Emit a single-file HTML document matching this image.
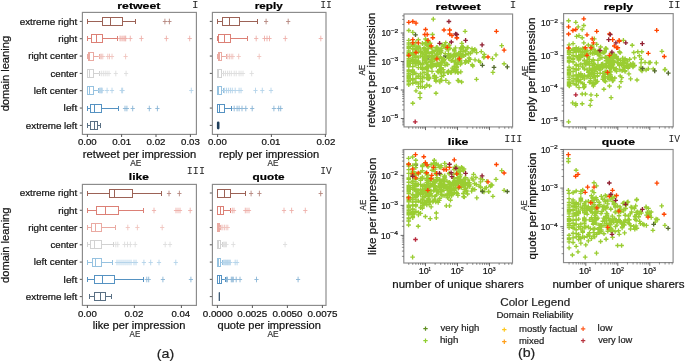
<!DOCTYPE html><html><head><meta charset="utf-8"><style>html,body{margin:0;padding:0;background:#fff;}svg{display:block;filter:blur(0.3px);} text{stroke-width:0.2px;} text.r{stroke-width:0;} text{font-kerning:none;}</style></head><body><svg width="685" height="362" viewBox="0 0 685 362"><rect width="685" height="362" fill="#fff"/><line x1="79.8" y1="21.4" x2="82.4" y2="21.4" stroke="#444" stroke-width="0.9"/><line x1="87.5" y1="21.5" x2="102.5" y2="21.5" stroke="#9c6256" stroke-width="1"/><line x1="122.5" y1="21.5" x2="135.5" y2="21.5" stroke="#9c6256" stroke-width="1"/><line x1="87.5" y1="19" x2="87.5" y2="24" stroke="#9c6256" stroke-width="1"/><line x1="135.5" y1="19" x2="135.5" y2="24" stroke="#9c6256" stroke-width="1"/><rect x="102.5" y="17.5" width="20" height="8" stroke="#9c6256" stroke-width="1" fill="none"/><line x1="110.5" y1="17.5" x2="110.5" y2="25.5" stroke="#9c6256" stroke-width="1"/><path d="M162.8 21.5h4.2M164.9 18.7v5.6M167.3 21.5h4.2M169.4 18.7v5.6" stroke="#b5877f" stroke-width="0.9" fill="none"/><line x1="79.8" y1="38.73" x2="82.4" y2="38.73" stroke="#444" stroke-width="0.9"/><line x1="87.5" y1="38.5" x2="91.5" y2="38.5" stroke="#dc8076" stroke-width="1"/><line x1="102.5" y1="38.5" x2="117.5" y2="38.5" stroke="#dc8076" stroke-width="1"/><line x1="87.5" y1="36" x2="87.5" y2="41" stroke="#dc8076" stroke-width="1"/><line x1="117.5" y1="36" x2="117.5" y2="41" stroke="#dc8076" stroke-width="1"/><rect x="91.5" y="34.5" width="11" height="8" stroke="#dc8076" stroke-width="1" fill="none"/><line x1="96.5" y1="34.5" x2="96.5" y2="42.5" stroke="#dc8076" stroke-width="1"/><path d="M117.9 38.5h4.2M120 35.7v5.6M119 38.5h4.2M121.1 35.7v5.6M120.7 38.5h4.2M122.8 35.7v5.6M121.9 38.5h4.2M124 35.7v5.6M122.9 38.5h4.2M125 35.7v5.6M123.6 38.5h4.2M125.7 35.7v5.6M128.2 38.5h4.2M130.3 35.7v5.6M139.3 38.5h4.2M141.4 35.7v5.6M164.3 38.5h4.2M166.4 35.7v5.6M187.6 38.5h4.2M189.7 35.7v5.6" stroke="#eeb0aa" stroke-width="0.9" fill="none"/><line x1="79.8" y1="56.06" x2="82.4" y2="56.06" stroke="#444" stroke-width="0.9"/><line x1="87.5" y1="56.5" x2="88.5" y2="56.5" stroke="#eaaaa2" stroke-width="1"/><line x1="93.5" y1="56.5" x2="99.5" y2="56.5" stroke="#eaaaa2" stroke-width="1"/><line x1="87.5" y1="54" x2="87.5" y2="59" stroke="#eaaaa2" stroke-width="1"/><line x1="99.5" y1="54" x2="99.5" y2="59" stroke="#eaaaa2" stroke-width="1"/><rect x="88.5" y="52.5" width="5" height="8" stroke="#eaaaa2" stroke-width="1" fill="none"/><line x1="89.5" y1="52.5" x2="89.5" y2="60.5" stroke="#eaaaa2" stroke-width="1"/><path d="M98.2 56.5h4.2M100.3 53.7v5.6M99.5 56.5h4.2M101.6 53.7v5.6M100.7 56.5h4.2M102.8 53.7v5.6M105.7 56.5h4.2M107.8 53.7v5.6M107.4 56.5h4.2M109.5 53.7v5.6M109.9 56.5h4.2M112 53.7v5.6M123.5 56.5h4.2M125.6 53.7v5.6" stroke="#f0c4be" stroke-width="0.9" fill="none"/><line x1="79.8" y1="73.39" x2="82.4" y2="73.39" stroke="#444" stroke-width="0.9"/><line x1="87.5" y1="73.5" x2="87.5" y2="73.5" stroke="#d2d2d2" stroke-width="1"/><line x1="93.5" y1="73.5" x2="99.5" y2="73.5" stroke="#d2d2d2" stroke-width="1"/><line x1="87.5" y1="71" x2="87.5" y2="76" stroke="#d2d2d2" stroke-width="1"/><line x1="99.5" y1="71" x2="99.5" y2="76" stroke="#d2d2d2" stroke-width="1"/><rect x="87.5" y="69.5" width="6" height="8" stroke="#d2d2d2" stroke-width="1" fill="none"/><line x1="89.5" y1="69.5" x2="89.5" y2="77.5" stroke="#d2d2d2" stroke-width="1"/><path d="M99.2 73.5h4.2M101.3 70.7v5.6M101.2 73.5h4.2M103.3 70.7v5.6M103.1 73.5h4.2M105.2 70.7v5.6M105 73.5h4.2M107.1 70.7v5.6M106.9 73.5h4.2M109 70.7v5.6M113.7 73.5h4.2M115.8 70.7v5.6M124 73.5h4.2M126.1 70.7v5.6" stroke="#dedede" stroke-width="0.9" fill="none"/><line x1="79.8" y1="90.72" x2="82.4" y2="90.72" stroke="#444" stroke-width="0.9"/><line x1="87.5" y1="90.5" x2="87.5" y2="90.5" stroke="#96c2e0" stroke-width="1"/><line x1="93.5" y1="90.5" x2="98.5" y2="90.5" stroke="#96c2e0" stroke-width="1"/><line x1="87.5" y1="88" x2="87.5" y2="93" stroke="#96c2e0" stroke-width="1"/><line x1="98.5" y1="88" x2="98.5" y2="93" stroke="#96c2e0" stroke-width="1"/><rect x="87.5" y="86.5" width="6" height="8" stroke="#96c2e0" stroke-width="1" fill="none"/><line x1="89.5" y1="86.5" x2="89.5" y2="94.5" stroke="#96c2e0" stroke-width="1"/><path d="M97.4 90.5h4.2M99.5 87.7v5.6M98.3 90.5h4.2M100.4 87.7v5.6M98.9 90.5h4.2M101 87.7v5.6M99.4 90.5h4.2M101.5 87.7v5.6M100.2 90.5h4.2M102.3 87.7v5.6M105 90.5h4.2M107.1 87.7v5.6M109.9 90.5h4.2M112 87.7v5.6M119.6 90.5h4.2M121.7 87.7v5.6M120.5 90.5h4.2M122.6 87.7v5.6M189.2 90.5h4.2M191.3 87.7v5.6" stroke="#b4d4ea" stroke-width="0.9" fill="none"/><line x1="79.8" y1="108.05" x2="82.4" y2="108.05" stroke="#444" stroke-width="0.9"/><line x1="87.5" y1="108.5" x2="90.5" y2="108.5" stroke="#5592c2" stroke-width="1"/><line x1="101.5" y1="108.5" x2="118.5" y2="108.5" stroke="#5592c2" stroke-width="1"/><line x1="87.5" y1="106" x2="87.5" y2="111" stroke="#5592c2" stroke-width="1"/><line x1="118.5" y1="106" x2="118.5" y2="111" stroke="#5592c2" stroke-width="1"/><rect x="90.5" y="104.5" width="11" height="8" stroke="#5592c2" stroke-width="1" fill="none"/><line x1="94.5" y1="104.5" x2="94.5" y2="112.5" stroke="#5592c2" stroke-width="1"/><path d="M122.9 108.5h4.2M125 105.7v5.6M124.8 108.5h4.2M126.9 105.7v5.6M130.6 108.5h4.2M132.7 105.7v5.6M147.2 108.5h4.2M149.3 105.7v5.6M155.3 108.5h4.2M157.4 105.7v5.6" stroke="#8ab5d6" stroke-width="0.9" fill="none"/><line x1="79.8" y1="125.38" x2="82.4" y2="125.38" stroke="#444" stroke-width="0.9"/><line x1="87.5" y1="125.5" x2="90.5" y2="125.5" stroke="#5a7084" stroke-width="1"/><line x1="97.5" y1="125.5" x2="100.5" y2="125.5" stroke="#5a7084" stroke-width="1"/><line x1="87.5" y1="123" x2="87.5" y2="128" stroke="#5a7084" stroke-width="1"/><line x1="100.5" y1="123" x2="100.5" y2="128" stroke="#5a7084" stroke-width="1"/><rect x="90.5" y="121.5" width="7" height="8" stroke="#5a7084" stroke-width="1" fill="none"/><line x1="94.5" y1="121.5" x2="94.5" y2="129.5" stroke="#5a7084" stroke-width="1"/><rect x="82.4" y="12.4" width="114" height="122" stroke="#8a8a8a" stroke-width="1.15" fill="none"/><line x1="209.8" y1="21.4" x2="212.4" y2="21.4" stroke="#444" stroke-width="0.9"/><line x1="217.5" y1="21.5" x2="222.5" y2="21.5" stroke="#9c6256" stroke-width="1"/><line x1="239.5" y1="21.5" x2="257.5" y2="21.5" stroke="#9c6256" stroke-width="1"/><line x1="217.5" y1="19" x2="217.5" y2="24" stroke="#9c6256" stroke-width="1"/><line x1="257.5" y1="19" x2="257.5" y2="24" stroke="#9c6256" stroke-width="1"/><rect x="222.5" y="17.5" width="17" height="8" stroke="#9c6256" stroke-width="1" fill="none"/><line x1="229.5" y1="17.5" x2="229.5" y2="25.5" stroke="#9c6256" stroke-width="1"/><path d="M264 21.5h4.2M266.1 18.7v5.6M286.1 21.5h4.2M288.2 18.7v5.6" stroke="#b5877f" stroke-width="0.9" fill="none"/><line x1="209.8" y1="38.73" x2="212.4" y2="38.73" stroke="#444" stroke-width="0.9"/><line x1="217.5" y1="38.5" x2="218.5" y2="38.5" stroke="#dc8076" stroke-width="1"/><line x1="230.5" y1="38.5" x2="247.5" y2="38.5" stroke="#dc8076" stroke-width="1"/><line x1="217.5" y1="36" x2="217.5" y2="41" stroke="#dc8076" stroke-width="1"/><line x1="247.5" y1="36" x2="247.5" y2="41" stroke="#dc8076" stroke-width="1"/><rect x="218.5" y="34.5" width="12" height="8" stroke="#dc8076" stroke-width="1" fill="none"/><line x1="224.5" y1="34.5" x2="224.5" y2="42.5" stroke="#dc8076" stroke-width="1"/><path d="M254.1 38.5h4.2M256.2 35.7v5.6M262.4 38.5h4.2M264.5 35.7v5.6M264.9 38.5h4.2M267 35.7v5.6M267.4 38.5h4.2M269.5 35.7v5.6M283.2 38.5h4.2M285.3 35.7v5.6M318.7 38.5h4.2M320.8 35.7v5.6" stroke="#eeb0aa" stroke-width="0.9" fill="none"/><line x1="209.8" y1="56.06" x2="212.4" y2="56.06" stroke="#444" stroke-width="0.9"/><line x1="217.5" y1="56.5" x2="218.5" y2="56.5" stroke="#eaaaa2" stroke-width="1"/><line x1="221.5" y1="56.5" x2="226.5" y2="56.5" stroke="#eaaaa2" stroke-width="1"/><line x1="217.5" y1="54" x2="217.5" y2="59" stroke="#eaaaa2" stroke-width="1"/><line x1="226.5" y1="54" x2="226.5" y2="59" stroke="#eaaaa2" stroke-width="1"/><rect x="218.5" y="52.5" width="3" height="8" stroke="#eaaaa2" stroke-width="1" fill="none"/><line x1="219.5" y1="52.5" x2="219.5" y2="60.5" stroke="#eaaaa2" stroke-width="1"/><path d="M225.7 56.5h4.2M227.8 53.7v5.6M227.4 56.5h4.2M229.5 53.7v5.6M229.1 56.5h4.2M231.2 53.7v5.6M230.7 56.5h4.2M232.8 53.7v5.6M236.6 56.5h4.2M238.7 53.7v5.6M257.1 56.5h4.2M259.2 53.7v5.6" stroke="#f0c4be" stroke-width="0.9" fill="none"/><line x1="209.8" y1="73.39" x2="212.4" y2="73.39" stroke="#444" stroke-width="0.9"/><line x1="217.5" y1="73.5" x2="217.5" y2="73.5" stroke="#d2d2d2" stroke-width="1"/><line x1="221.5" y1="73.5" x2="223.5" y2="73.5" stroke="#d2d2d2" stroke-width="1"/><line x1="217.5" y1="71" x2="217.5" y2="76" stroke="#d2d2d2" stroke-width="1"/><line x1="223.5" y1="71" x2="223.5" y2="76" stroke="#d2d2d2" stroke-width="1"/><rect x="217.5" y="69.5" width="4" height="8" stroke="#d2d2d2" stroke-width="1" fill="none"/><line x1="218.5" y1="69.5" x2="218.5" y2="77.5" stroke="#d2d2d2" stroke-width="1"/><path d="M221.5 73.5h4.2M223.6 70.7v5.6M223.4 73.5h4.2M225.5 70.7v5.6M225.4 73.5h4.2M227.5 70.7v5.6M227.3 73.5h4.2M229.4 70.7v5.6M229.2 73.5h4.2M231.3 70.7v5.6M232.1 73.5h4.2M234.2 70.7v5.6M234.1 73.5h4.2M236.2 70.7v5.6M237 73.5h4.2M239.1 70.7v5.6M238.9 73.5h4.2M241 70.7v5.6M240.9 73.5h4.2M243 70.7v5.6M249.6 73.5h4.2M251.7 70.7v5.6" stroke="#dedede" stroke-width="0.9" fill="none"/><line x1="209.8" y1="90.72" x2="212.4" y2="90.72" stroke="#444" stroke-width="0.9"/><line x1="217.5" y1="90.5" x2="217.5" y2="90.5" stroke="#96c2e0" stroke-width="1"/><line x1="221.5" y1="90.5" x2="223.5" y2="90.5" stroke="#96c2e0" stroke-width="1"/><line x1="217.5" y1="88" x2="217.5" y2="93" stroke="#96c2e0" stroke-width="1"/><line x1="223.5" y1="88" x2="223.5" y2="93" stroke="#96c2e0" stroke-width="1"/><rect x="217.5" y="86.5" width="4" height="8" stroke="#96c2e0" stroke-width="1" fill="none"/><line x1="218.5" y1="86.5" x2="218.5" y2="94.5" stroke="#96c2e0" stroke-width="1"/><path d="M222.5 90.5h4.2M224.6 87.7v5.6M224.4 90.5h4.2M226.5 87.7v5.6M226.3 90.5h4.2M228.4 87.7v5.6M228.3 90.5h4.2M230.4 87.7v5.6M230.2 90.5h4.2M232.3 87.7v5.6M233.1 90.5h4.2M235.2 87.7v5.6M237 90.5h4.2M239.1 87.7v5.6M238.9 90.5h4.2M241 87.7v5.6M253.4 90.5h4.2M255.5 87.7v5.6M260.2 90.5h4.2M262.3 87.7v5.6M268.9 90.5h4.2M271 87.7v5.6" stroke="#b4d4ea" stroke-width="0.9" fill="none"/><line x1="209.8" y1="108.05" x2="212.4" y2="108.05" stroke="#444" stroke-width="0.9"/><line x1="217.5" y1="108.5" x2="217.5" y2="108.5" stroke="#5592c2" stroke-width="1"/><line x1="224.5" y1="108.5" x2="231.5" y2="108.5" stroke="#5592c2" stroke-width="1"/><line x1="217.5" y1="106" x2="217.5" y2="111" stroke="#5592c2" stroke-width="1"/><line x1="231.5" y1="106" x2="231.5" y2="111" stroke="#5592c2" stroke-width="1"/><rect x="217.5" y="104.5" width="7" height="8" stroke="#5592c2" stroke-width="1" fill="none"/><line x1="219.5" y1="104.5" x2="219.5" y2="112.5" stroke="#5592c2" stroke-width="1"/><path d="M232.1 108.5h4.2M234.2 105.7v5.6M235 108.5h4.2M237.1 105.7v5.6M237 108.5h4.2M239.1 105.7v5.6M239.9 108.5h4.2M242 105.7v5.6M243.7 108.5h4.2M245.8 105.7v5.6M250.1 108.5h4.2M252.2 105.7v5.6M271.8 108.5h4.2M273.9 105.7v5.6M276.6 108.5h4.2M278.7 105.7v5.6M278.6 108.5h4.2M280.7 105.7v5.6" stroke="#8ab5d6" stroke-width="0.9" fill="none"/><line x1="209.8" y1="125.38" x2="212.4" y2="125.38" stroke="#444" stroke-width="0.9"/><rect x="216.9" y="121.38" width="2.6" height="8" rx="1.3" fill="#1f3f5c"/><rect x="212.4" y="12.4" width="113.6" height="122" stroke="#8a8a8a" stroke-width="1.15" fill="none"/><line x1="79.8" y1="193" x2="82.4" y2="193" stroke="#444" stroke-width="0.9"/><line x1="87.5" y1="193.5" x2="109.5" y2="193.5" stroke="#9c6256" stroke-width="1"/><line x1="132.5" y1="193.5" x2="161.5" y2="193.5" stroke="#9c6256" stroke-width="1"/><line x1="87.5" y1="191" x2="87.5" y2="196" stroke="#9c6256" stroke-width="1"/><line x1="161.5" y1="191" x2="161.5" y2="196" stroke="#9c6256" stroke-width="1"/><rect x="109.5" y="189.5" width="23" height="8" stroke="#9c6256" stroke-width="1" fill="none"/><line x1="114.5" y1="189.5" x2="114.5" y2="197.5" stroke="#9c6256" stroke-width="1"/><path d="M166.9 193.5h4.2M169 190.7v5.6M177.3 193.5h4.2M179.4 190.7v5.6" stroke="#b5877f" stroke-width="0.9" fill="none"/><line x1="79.8" y1="210.27" x2="82.4" y2="210.27" stroke="#444" stroke-width="0.9"/><line x1="87.5" y1="210.5" x2="96.5" y2="210.5" stroke="#dc8076" stroke-width="1"/><line x1="118.5" y1="210.5" x2="143.5" y2="210.5" stroke="#dc8076" stroke-width="1"/><line x1="87.5" y1="208" x2="87.5" y2="213" stroke="#dc8076" stroke-width="1"/><line x1="143.5" y1="208" x2="143.5" y2="213" stroke="#dc8076" stroke-width="1"/><rect x="96.5" y="206.5" width="22" height="8" stroke="#dc8076" stroke-width="1" fill="none"/><line x1="105.5" y1="206.5" x2="105.5" y2="214.5" stroke="#dc8076" stroke-width="1"/><path d="M151.9 210.5h4.2M154 207.7v5.6M173.9 210.5h4.2M176 207.7v5.6M175.9 210.5h4.2M178 207.7v5.6M177.9 210.5h4.2M180 207.7v5.6M188.1 210.5h4.2M190.2 207.7v5.6" stroke="#eeb0aa" stroke-width="0.9" fill="none"/><line x1="79.8" y1="227.54" x2="82.4" y2="227.54" stroke="#444" stroke-width="0.9"/><line x1="87.5" y1="227.5" x2="91.5" y2="227.5" stroke="#eaaaa2" stroke-width="1"/><line x1="101.5" y1="227.5" x2="115.5" y2="227.5" stroke="#eaaaa2" stroke-width="1"/><line x1="87.5" y1="225" x2="87.5" y2="230" stroke="#eaaaa2" stroke-width="1"/><line x1="115.5" y1="225" x2="115.5" y2="230" stroke="#eaaaa2" stroke-width="1"/><rect x="91.5" y="223.5" width="10" height="8" stroke="#eaaaa2" stroke-width="1" fill="none"/><line x1="95.5" y1="223.5" x2="95.5" y2="231.5" stroke="#eaaaa2" stroke-width="1"/><path d="M125.7 227.5h4.2M127.8 224.7v5.6M135.3 227.5h4.2M137.4 224.7v5.6M160.1 227.5h4.2M162.2 224.7v5.6" stroke="#f0c4be" stroke-width="0.9" fill="none"/><line x1="79.8" y1="244.81" x2="82.4" y2="244.81" stroke="#444" stroke-width="0.9"/><line x1="87.5" y1="244.5" x2="90.5" y2="244.5" stroke="#d2d2d2" stroke-width="1"/><line x1="101.5" y1="244.5" x2="113.5" y2="244.5" stroke="#d2d2d2" stroke-width="1"/><line x1="87.5" y1="242" x2="87.5" y2="247" stroke="#d2d2d2" stroke-width="1"/><line x1="113.5" y1="242" x2="113.5" y2="247" stroke="#d2d2d2" stroke-width="1"/><rect x="90.5" y="240.5" width="11" height="8" stroke="#d2d2d2" stroke-width="1" fill="none"/><line x1="94.5" y1="240.5" x2="94.5" y2="248.5" stroke="#d2d2d2" stroke-width="1"/><path d="M113.7 244.5h4.2M115.8 241.7v5.6M115.7 244.5h4.2M117.8 241.7v5.6M122.5 244.5h4.2M124.6 241.7v5.6M125.4 244.5h4.2M127.5 241.7v5.6M128.3 244.5h4.2M130.4 241.7v5.6M133.1 244.5h4.2M135.2 241.7v5.6M163.1 244.5h4.2M165.2 241.7v5.6M167.9 244.5h4.2M170 241.7v5.6" stroke="#dedede" stroke-width="0.9" fill="none"/><line x1="79.8" y1="262.08" x2="82.4" y2="262.08" stroke="#444" stroke-width="0.9"/><line x1="87.5" y1="262.5" x2="92.5" y2="262.5" stroke="#96c2e0" stroke-width="1"/><line x1="101.5" y1="262.5" x2="112.5" y2="262.5" stroke="#96c2e0" stroke-width="1"/><line x1="87.5" y1="260" x2="87.5" y2="265" stroke="#96c2e0" stroke-width="1"/><line x1="112.5" y1="260" x2="112.5" y2="265" stroke="#96c2e0" stroke-width="1"/><rect x="92.5" y="258.5" width="9" height="8" stroke="#96c2e0" stroke-width="1" fill="none"/><line x1="95.5" y1="258.5" x2="95.5" y2="266.5" stroke="#96c2e0" stroke-width="1"/><path d="M114.9 262.5h4.2M117 259.7v5.6M116.9 262.5h4.2M119 259.7v5.6M118.9 262.5h4.2M121 259.7v5.6M120.9 262.5h4.2M123 259.7v5.6M122.9 262.5h4.2M125 259.7v5.6M124.9 262.5h4.2M127 259.7v5.6M126.9 262.5h4.2M129 259.7v5.6M128.9 262.5h4.2M131 259.7v5.6M131.9 262.5h4.2M134 259.7v5.6M133.9 262.5h4.2M136 259.7v5.6M141.8 262.5h4.2M143.9 259.7v5.6M148.6 262.5h4.2M150.7 259.7v5.6M156.9 262.5h4.2M159 259.7v5.6M173.7 262.5h4.2M175.8 259.7v5.6" stroke="#b4d4ea" stroke-width="0.9" fill="none"/><line x1="79.8" y1="279.35" x2="82.4" y2="279.35" stroke="#444" stroke-width="0.9"/><line x1="87.5" y1="279.5" x2="94.5" y2="279.5" stroke="#5592c2" stroke-width="1"/><line x1="114.5" y1="279.5" x2="143.5" y2="279.5" stroke="#5592c2" stroke-width="1"/><line x1="87.5" y1="277" x2="87.5" y2="282" stroke="#5592c2" stroke-width="1"/><line x1="143.5" y1="277" x2="143.5" y2="282" stroke="#5592c2" stroke-width="1"/><rect x="94.5" y="275.5" width="20" height="8" stroke="#5592c2" stroke-width="1" fill="none"/><line x1="102.5" y1="275.5" x2="102.5" y2="283.5" stroke="#5592c2" stroke-width="1"/><path d="M144.7 279.5h4.2M146.8 276.7v5.6M146.6 279.5h4.2M148.7 276.7v5.6M160.8 279.5h4.2M162.9 276.7v5.6M188.8 279.5h4.2M190.9 276.7v5.6" stroke="#8ab5d6" stroke-width="0.9" fill="none"/><line x1="79.8" y1="296.62" x2="82.4" y2="296.62" stroke="#444" stroke-width="0.9"/><line x1="89.5" y1="296.5" x2="94.5" y2="296.5" stroke="#5a7084" stroke-width="1"/><line x1="105.5" y1="296.5" x2="111.5" y2="296.5" stroke="#5a7084" stroke-width="1"/><line x1="89.5" y1="294" x2="89.5" y2="299" stroke="#5a7084" stroke-width="1"/><line x1="111.5" y1="294" x2="111.5" y2="299" stroke="#5a7084" stroke-width="1"/><rect x="94.5" y="292.5" width="11" height="8" stroke="#5a7084" stroke-width="1" fill="none"/><line x1="100.5" y1="292.5" x2="100.5" y2="300.5" stroke="#5a7084" stroke-width="1"/><rect x="82.4" y="184.4" width="114" height="121" stroke="#8a8a8a" stroke-width="1.15" fill="none"/><line x1="209.8" y1="193" x2="212.4" y2="193" stroke="#444" stroke-width="0.9"/><line x1="217.5" y1="193.5" x2="217.5" y2="193.5" stroke="#9c6256" stroke-width="1"/><line x1="230.5" y1="193.5" x2="245.5" y2="193.5" stroke="#9c6256" stroke-width="1"/><line x1="217.5" y1="191" x2="217.5" y2="196" stroke="#9c6256" stroke-width="1"/><line x1="245.5" y1="191" x2="245.5" y2="196" stroke="#9c6256" stroke-width="1"/><rect x="217.5" y="189.5" width="13" height="8" stroke="#9c6256" stroke-width="1" fill="none"/><line x1="224.5" y1="189.5" x2="224.5" y2="197.5" stroke="#9c6256" stroke-width="1"/><path d="M249 193.5h4.2M251.1 190.7v5.6M257.3 193.5h4.2M259.4 190.7v5.6M318.6 193.5h4.2M320.7 190.7v5.6" stroke="#b5877f" stroke-width="0.9" fill="none"/><line x1="209.8" y1="210.27" x2="212.4" y2="210.27" stroke="#444" stroke-width="0.9"/><line x1="217.5" y1="210.5" x2="217.5" y2="210.5" stroke="#dc8076" stroke-width="1"/><line x1="223.5" y1="210.5" x2="230.5" y2="210.5" stroke="#dc8076" stroke-width="1"/><line x1="217.5" y1="208" x2="217.5" y2="213" stroke="#dc8076" stroke-width="1"/><line x1="230.5" y1="208" x2="230.5" y2="213" stroke="#dc8076" stroke-width="1"/><rect x="217.5" y="206.5" width="6" height="8" stroke="#dc8076" stroke-width="1" fill="none"/><line x1="220.5" y1="206.5" x2="220.5" y2="214.5" stroke="#dc8076" stroke-width="1"/><path d="M230.2 210.5h4.2M232.3 207.7v5.6M231.9 210.5h4.2M234 207.7v5.6M243.2 210.5h4.2M245.3 207.7v5.6M244.9 210.5h4.2M247 207.7v5.6M246.9 210.5h4.2M249 207.7v5.6M281.9 210.5h4.2M284 207.7v5.6M289.5 210.5h4.2M291.6 207.7v5.6M303.2 210.5h4.2M305.3 207.7v5.6" stroke="#eeb0aa" stroke-width="0.9" fill="none"/><line x1="209.8" y1="227.54" x2="212.4" y2="227.54" stroke="#444" stroke-width="0.9"/><line x1="217.5" y1="227.5" x2="217.5" y2="227.5" stroke="#eaaaa2" stroke-width="1"/><line x1="219.5" y1="227.5" x2="220.5" y2="227.5" stroke="#eaaaa2" stroke-width="1"/><line x1="217.5" y1="225" x2="217.5" y2="230" stroke="#eaaaa2" stroke-width="1"/><line x1="220.5" y1="225" x2="220.5" y2="230" stroke="#eaaaa2" stroke-width="1"/><rect x="217.5" y="223.5" width="2" height="8" stroke="#eaaaa2" stroke-width="1" fill="none"/><line x1="218.5" y1="223.5" x2="218.5" y2="231.5" stroke="#eaaaa2" stroke-width="1"/><path d="M219.1 227.5h4.2M221.2 224.7v5.6M220.7 227.5h4.2M222.8 224.7v5.6M222.4 227.5h4.2M224.5 224.7v5.6M224.1 227.5h4.2M226.2 224.7v5.6M225.7 227.5h4.2M227.8 224.7v5.6" stroke="#f0c4be" stroke-width="0.9" fill="none"/><line x1="209.8" y1="244.81" x2="212.4" y2="244.81" stroke="#444" stroke-width="0.9"/><line x1="217.5" y1="244.5" x2="217.5" y2="244.5" stroke="#d2d2d2" stroke-width="1"/><line x1="220.5" y1="244.5" x2="222.5" y2="244.5" stroke="#d2d2d2" stroke-width="1"/><line x1="217.5" y1="242" x2="217.5" y2="247" stroke="#d2d2d2" stroke-width="1"/><line x1="222.5" y1="242" x2="222.5" y2="247" stroke="#d2d2d2" stroke-width="1"/><rect x="217.5" y="240.5" width="3" height="8" stroke="#d2d2d2" stroke-width="1" fill="none"/><line x1="218.5" y1="240.5" x2="218.5" y2="248.5" stroke="#d2d2d2" stroke-width="1"/><path d="M221.5 244.5h4.2M223.6 241.7v5.6M222.5 244.5h4.2M224.6 241.7v5.6M223.4 244.5h4.2M225.5 241.7v5.6M224.4 244.5h4.2M226.5 241.7v5.6M231.2 244.5h4.2M233.3 241.7v5.6M283 244.5h4.2M285.1 241.7v5.6" stroke="#dedede" stroke-width="0.9" fill="none"/><line x1="209.8" y1="262.08" x2="212.4" y2="262.08" stroke="#444" stroke-width="0.9"/><line x1="217.5" y1="262.5" x2="217.5" y2="262.5" stroke="#96c2e0" stroke-width="1"/><line x1="220.5" y1="262.5" x2="222.5" y2="262.5" stroke="#96c2e0" stroke-width="1"/><line x1="217.5" y1="260" x2="217.5" y2="265" stroke="#96c2e0" stroke-width="1"/><line x1="222.5" y1="260" x2="222.5" y2="265" stroke="#96c2e0" stroke-width="1"/><rect x="217.5" y="258.5" width="3" height="8" stroke="#96c2e0" stroke-width="1" fill="none"/><line x1="218.5" y1="258.5" x2="218.5" y2="266.5" stroke="#96c2e0" stroke-width="1"/><path d="M221.5 262.5h4.2M223.6 259.7v5.6M222.5 262.5h4.2M224.6 259.7v5.6M223.4 262.5h4.2M225.5 259.7v5.6M224.4 262.5h4.2M226.5 259.7v5.6M225.4 262.5h4.2M227.5 259.7v5.6M226.3 262.5h4.2M228.4 259.7v5.6M227.3 262.5h4.2M229.4 259.7v5.6M228.3 262.5h4.2M230.4 259.7v5.6M233.1 262.5h4.2M235.2 259.7v5.6M235 262.5h4.2M237.1 259.7v5.6" stroke="#b4d4ea" stroke-width="0.9" fill="none"/><line x1="209.8" y1="279.35" x2="212.4" y2="279.35" stroke="#444" stroke-width="0.9"/><line x1="217.5" y1="279.5" x2="217.5" y2="279.5" stroke="#5592c2" stroke-width="1"/><line x1="221.5" y1="279.5" x2="225.5" y2="279.5" stroke="#5592c2" stroke-width="1"/><line x1="217.5" y1="277" x2="217.5" y2="282" stroke="#5592c2" stroke-width="1"/><line x1="225.5" y1="277" x2="225.5" y2="282" stroke="#5592c2" stroke-width="1"/><rect x="217.5" y="275.5" width="4" height="8" stroke="#5592c2" stroke-width="1" fill="none"/><line x1="219.5" y1="275.5" x2="219.5" y2="283.5" stroke="#5592c2" stroke-width="1"/><path d="M224.4 279.5h4.2M226.5 276.7v5.6M225.4 279.5h4.2M227.5 276.7v5.6M229.2 279.5h4.2M231.3 276.7v5.6M230.2 279.5h4.2M232.3 276.7v5.6M231.2 279.5h4.2M233.3 276.7v5.6M234.1 279.5h4.2M236.2 276.7v5.6M237.9 279.5h4.2M240 276.7v5.6M254.4 279.5h4.2M256.5 276.7v5.6M296 279.5h4.2M298.1 276.7v5.6" stroke="#8ab5d6" stroke-width="0.9" fill="none"/><line x1="209.8" y1="296.62" x2="212.4" y2="296.62" stroke="#444" stroke-width="0.9"/><rect x="218.7" y="292.12" width="1.2" height="9" rx="0.6" fill="#2a4a68"/><rect x="212.4" y="184.4" width="113.6" height="121" stroke="#8a8a8a" stroke-width="1.15" fill="none"/><text x="19.68" y="24.8" font-family='"Liberation Sans", sans-serif' font-size="8.9" font-weight="normal" fill="#111" stroke="#111" textLength="57.59" lengthAdjust="spacingAndGlyphs">extreme right</text><text x="58.25" y="42.13" font-family='"Liberation Sans", sans-serif' font-size="8.9" font-weight="normal" fill="#111" stroke="#111" textLength="19.02" lengthAdjust="spacingAndGlyphs">right</text><text x="28.15" y="59.46" font-family='"Liberation Sans", sans-serif' font-size="8.9" font-weight="normal" fill="#111" stroke="#111" textLength="49.22" lengthAdjust="spacingAndGlyphs">right center</text><text x="50.49" y="76.79" font-family='"Liberation Sans", sans-serif' font-size="8.9" font-weight="normal" fill="#111" stroke="#111" textLength="26.87" lengthAdjust="spacingAndGlyphs">center</text><text x="33.73" y="94.12" font-family='"Liberation Sans", sans-serif' font-size="8.9" font-weight="normal" fill="#111" stroke="#111" textLength="43.63" lengthAdjust="spacingAndGlyphs">left center</text><text x="63.61" y="111.45" font-family='"Liberation Sans", sans-serif' font-size="8.9" font-weight="normal" fill="#111" stroke="#111" textLength="13.67" lengthAdjust="spacingAndGlyphs">left</text><text x="25.78" y="128.78" font-family='"Liberation Sans", sans-serif' font-size="8.9" font-weight="normal" fill="#111" stroke="#111" textLength="51.49" lengthAdjust="spacingAndGlyphs">extreme left</text><text x="19.68" y="196.4" font-family='"Liberation Sans", sans-serif' font-size="8.9" font-weight="normal" fill="#111" stroke="#111" textLength="57.59" lengthAdjust="spacingAndGlyphs">extreme right</text><text x="58.25" y="213.67" font-family='"Liberation Sans", sans-serif' font-size="8.9" font-weight="normal" fill="#111" stroke="#111" textLength="19.02" lengthAdjust="spacingAndGlyphs">right</text><text x="28.15" y="230.94" font-family='"Liberation Sans", sans-serif' font-size="8.9" font-weight="normal" fill="#111" stroke="#111" textLength="49.22" lengthAdjust="spacingAndGlyphs">right center</text><text x="50.49" y="248.21" font-family='"Liberation Sans", sans-serif' font-size="8.9" font-weight="normal" fill="#111" stroke="#111" textLength="26.87" lengthAdjust="spacingAndGlyphs">center</text><text x="33.73" y="265.48" font-family='"Liberation Sans", sans-serif' font-size="8.9" font-weight="normal" fill="#111" stroke="#111" textLength="43.63" lengthAdjust="spacingAndGlyphs">left center</text><text x="63.61" y="282.75" font-family='"Liberation Sans", sans-serif' font-size="8.9" font-weight="normal" fill="#111" stroke="#111" textLength="13.67" lengthAdjust="spacingAndGlyphs">left</text><text x="25.78" y="300.02" font-family='"Liberation Sans", sans-serif' font-size="8.9" font-weight="normal" fill="#111" stroke="#111" textLength="51.49" lengthAdjust="spacingAndGlyphs">extreme left</text><text transform="translate(9,111.37) rotate(-90)" x="0" y="0" font-family='"Liberation Sans", sans-serif' font-size="10.2" font-weight="normal" fill="#111" stroke="#111" textLength="75.48" lengthAdjust="spacingAndGlyphs">domain leaning</text><text transform="translate(9,282.97) rotate(-90)" x="0" y="0" font-family='"Liberation Sans", sans-serif' font-size="10.2" font-weight="normal" fill="#111" stroke="#111" textLength="75.48" lengthAdjust="spacingAndGlyphs">domain leaning</text><text x="117.29" y="8.9" font-family='"Liberation Sans", sans-serif' font-size="9.3" font-weight="bold" fill="#000" stroke="#000" textLength="43.16" lengthAdjust="spacingAndGlyphs">retweet</text><text x="254.83" y="8.9" font-family='"Liberation Sans", sans-serif' font-size="9.3" font-weight="bold" fill="#000" stroke="#000" textLength="27.93" lengthAdjust="spacingAndGlyphs">reply</text><text x="128.86" y="180.3" font-family='"Liberation Sans", sans-serif' font-size="9.3" font-weight="bold" fill="#000" stroke="#000" textLength="20.05" lengthAdjust="spacingAndGlyphs">like</text><text x="252.62" y="180.3" font-family='"Liberation Sans", sans-serif' font-size="9.3" font-weight="bold" fill="#000" stroke="#000" textLength="31.98" lengthAdjust="spacingAndGlyphs">quote</text><text x="192.12" y="7.7" font-family='"Liberation Mono", monospace' font-size="10" font-weight="normal" fill="#222" stroke="#222" textLength="6.57" lengthAdjust="spacingAndGlyphs" class="r">I</text><text x="320.14" y="7.7" font-family='"Liberation Mono", monospace' font-size="10" font-weight="normal" fill="#222" stroke="#222" textLength="11.74" lengthAdjust="spacingAndGlyphs" class="r">II</text><text x="186.8" y="173.6" font-family='"Liberation Mono", monospace' font-size="10" font-weight="normal" fill="#222" stroke="#222" textLength="18.2" lengthAdjust="spacingAndGlyphs" class="r">III</text><text x="320.16" y="173.6" font-family='"Liberation Mono", monospace' font-size="10" font-weight="normal" fill="#222" stroke="#222" textLength="11.5" lengthAdjust="spacingAndGlyphs" class="r">IV</text><line x1="87.4" y1="134.4" x2="87.4" y2="137" stroke="#444" stroke-width="0.9"/><text x="77.97" y="145.4" font-family='"Liberation Sans", sans-serif' font-size="8.3" font-weight="normal" fill="#111" stroke="#111" textLength="18.75" lengthAdjust="spacingAndGlyphs">0.00</text><line x1="121.6" y1="134.4" x2="121.6" y2="137" stroke="#444" stroke-width="0.9"/><text x="112.22" y="145.4" font-family='"Liberation Sans", sans-serif' font-size="8.3" font-weight="normal" fill="#111" stroke="#111" textLength="18.85" lengthAdjust="spacingAndGlyphs">0.01</text><line x1="156" y1="134.4" x2="156" y2="137" stroke="#444" stroke-width="0.9"/><text x="146.62" y="145.4" font-family='"Liberation Sans", sans-serif' font-size="8.3" font-weight="normal" fill="#111" stroke="#111" textLength="18.87" lengthAdjust="spacingAndGlyphs">0.02</text><line x1="190.4" y1="134.4" x2="190.4" y2="137" stroke="#444" stroke-width="0.9"/><text x="181.02" y="145.4" font-family='"Liberation Sans", sans-serif' font-size="8.3" font-weight="normal" fill="#111" stroke="#111" textLength="18.8" lengthAdjust="spacingAndGlyphs">0.03</text><line x1="217.6" y1="134.4" x2="217.6" y2="137" stroke="#444" stroke-width="0.9"/><text x="208.02" y="145.4" font-family='"Liberation Sans", sans-serif' font-size="8.3" font-weight="normal" fill="#111" stroke="#111" textLength="18.75" lengthAdjust="spacingAndGlyphs">0.00</text><line x1="271.4" y1="134.4" x2="271.4" y2="137" stroke="#444" stroke-width="0.9"/><text x="261.62" y="145.4" font-family='"Liberation Sans", sans-serif' font-size="8.3" font-weight="normal" fill="#111" stroke="#111" textLength="18.85" lengthAdjust="spacingAndGlyphs">0.01</text><line x1="325.4" y1="134.4" x2="325.4" y2="137" stroke="#444" stroke-width="0.9"/><text x="316.42" y="145.4" font-family='"Liberation Sans", sans-serif' font-size="8.3" font-weight="normal" fill="#111" stroke="#111" textLength="18.87" lengthAdjust="spacingAndGlyphs">0.02</text><line x1="87.4" y1="305.4" x2="87.4" y2="308" stroke="#444" stroke-width="0.9"/><text x="78.02" y="316.9" font-family='"Liberation Sans", sans-serif' font-size="8.3" font-weight="normal" fill="#111" stroke="#111" textLength="18.75" lengthAdjust="spacingAndGlyphs">0.00</text><line x1="134.4" y1="305.4" x2="134.4" y2="308" stroke="#444" stroke-width="0.9"/><text x="124.42" y="316.9" font-family='"Liberation Sans", sans-serif' font-size="8.3" font-weight="normal" fill="#111" stroke="#111" textLength="18.87" lengthAdjust="spacingAndGlyphs">0.02</text><line x1="181.4" y1="305.4" x2="181.4" y2="308" stroke="#444" stroke-width="0.9"/><text x="171.43" y="316.9" font-family='"Liberation Sans", sans-serif' font-size="8.3" font-weight="normal" fill="#111" stroke="#111" textLength="18.66" lengthAdjust="spacingAndGlyphs">0.04</text><line x1="217.4" y1="305.4" x2="217.4" y2="308" stroke="#444" stroke-width="0.9"/><text x="202.72" y="316.9" font-family='"Liberation Sans", sans-serif' font-size="8.3" font-weight="normal" fill="#111" stroke="#111" textLength="29.97" lengthAdjust="spacingAndGlyphs">0.0000</text><line x1="252.4" y1="305.4" x2="252.4" y2="308" stroke="#444" stroke-width="0.9"/><text x="237.22" y="316.9" font-family='"Liberation Sans", sans-serif' font-size="8.3" font-weight="normal" fill="#111" stroke="#111" textLength="29.99" lengthAdjust="spacingAndGlyphs">0.0025</text><line x1="287.4" y1="305.4" x2="287.4" y2="308" stroke="#444" stroke-width="0.9"/><text x="272.52" y="316.9" font-family='"Liberation Sans", sans-serif' font-size="8.3" font-weight="normal" fill="#111" stroke="#111" textLength="29.97" lengthAdjust="spacingAndGlyphs">0.0050</text><line x1="322.4" y1="305.4" x2="322.4" y2="308" stroke="#444" stroke-width="0.9"/><text x="307.52" y="316.9" font-family='"Liberation Sans", sans-serif' font-size="8.3" font-weight="normal" fill="#111" stroke="#111" textLength="29.99" lengthAdjust="spacingAndGlyphs">0.0075</text><text x="82.86" y="157.5" font-family='"Liberation Sans", sans-serif' font-size="10.2" font-weight="normal" fill="#111" stroke="#111" textLength="113.37" lengthAdjust="spacingAndGlyphs">retweet per impression</text><text x="219.06" y="157.5" font-family='"Liberation Sans", sans-serif' font-size="10.2" font-weight="normal" fill="#111" stroke="#111" textLength="100.16" lengthAdjust="spacingAndGlyphs">reply per impression</text><text x="92.85" y="328.8" font-family='"Liberation Sans", sans-serif' font-size="10.2" font-weight="normal" fill="#111" stroke="#111" textLength="92.57" lengthAdjust="spacingAndGlyphs">like per impression</text><text x="217.54" y="328.8" font-family='"Liberation Sans", sans-serif' font-size="10.2" font-weight="normal" fill="#111" stroke="#111" textLength="103.38" lengthAdjust="spacingAndGlyphs">quote per impression</text><text x="130.18" y="166.4" font-family='"Liberation Sans", sans-serif' font-size="8.8" font-weight="normal" fill="#333" stroke="#333" textLength="11.07" lengthAdjust="spacingAndGlyphs">AE</text><text x="267.58" y="166.4" font-family='"Liberation Sans", sans-serif' font-size="8.8" font-weight="normal" fill="#333" stroke="#333" textLength="10.87" lengthAdjust="spacingAndGlyphs">AE</text><text x="129.58" y="336.9" font-family='"Liberation Sans", sans-serif' font-size="8.8" font-weight="normal" fill="#333" stroke="#333" textLength="10.66" lengthAdjust="spacingAndGlyphs">AE</text><text x="267.48" y="336.9" font-family='"Liberation Sans", sans-serif' font-size="8.8" font-weight="normal" fill="#333" stroke="#333" textLength="11.18" lengthAdjust="spacingAndGlyphs">AE</text><text x="156.81" y="357.6" font-family='"Liberation Sans", sans-serif' font-size="13" font-weight="normal" fill="#222" stroke="#222" textLength="17.47" lengthAdjust="spacingAndGlyphs">(a)</text><clipPath id="cp0"><rect x="404" y="14" width="108.6" height="112.9"/></clipPath><g clip-path="url(#cp0)"><path d="M443 56h4.6M445.3 53.7v4.6M425.7 57.6h4.6M428 55.3v4.6" stroke="#556b2f" stroke-width="1.35" fill="none"/><path d="M462.79 50.77h4.6M465.09 48.47v4.6M452.91 72.18h4.6M455.21 69.88v4.6M452.59 53.1h4.6M454.89 50.8v4.6M454.55 69.15h4.6M456.85 66.85v4.6M435.93 50.31h4.6M438.23 48.01v4.6M410.47 78.78h4.6M412.77 76.48v4.6M434.16 47.45h4.6M436.46 45.15v4.6M423.2 44.15h4.6M425.5 41.85v4.6M440.61 61.38h4.6M442.91 59.08v4.6M417.7 97.6h4.6M420 95.3v4.6M421.74 59.1h4.6M424.04 56.8v4.6M413.57 63h4.6M415.87 60.7v4.6M423.2 42.58h4.6M425.5 40.28v4.6M432.12 78.38h4.6M434.42 76.08v4.6M420.1 67.27h4.6M422.4 64.97v4.6M423.2 62.19h4.6M425.5 59.89v4.6M410.47 52.59h4.6M412.77 50.29v4.6M439.36 80.48h4.6M441.66 78.18v4.6M406.47 50.88h4.6M408.77 48.58v4.6M438.47 72.01h4.6M440.77 69.71v4.6M416.1 62.89h4.6M418.4 60.59v4.6M433.51 50.06h4.6M435.81 47.76v4.6M444.82 49.47h4.6M447.12 47.17v4.6M410.47 63.42h4.6M412.77 61.12v4.6M423.2 39.06h4.6M425.5 36.76v4.6M454.9 64.34h4.6M457.2 62.04v4.6M406.47 40.32h4.6M408.77 38.02v4.6M438.92 52.49h4.6M441.22 50.19v4.6M431.37 65.06h4.6M433.67 62.76v4.6M451.84 66.48h4.6M454.14 64.18v4.6M446.2 53.91h4.6M448.5 51.61v4.6M425.73 78.22h4.6M428.03 75.92v4.6M430.57 64.29h4.6M432.87 61.99v4.6M424.52 77.91h4.6M426.82 75.61v4.6M434.16 66.27h4.6M436.46 63.97v4.6M452.3 61.84h4.6M454.6 59.54v4.6M470.5 66.05h4.6M472.8 63.75v4.6M410.47 60.42h4.6M412.77 58.12v4.6M420.1 54.18h4.6M422.4 51.88v4.6M421.74 58.13h4.6M424.04 55.83v4.6M434.78 63.29h4.6M437.08 60.99v4.6M410.47 53.68h4.6M412.77 51.38v4.6M406.47 46.65h4.6M408.77 44.35v4.6M434.78 47.21h4.6M437.08 44.91v4.6M434.16 55.19h4.6M436.46 52.89v4.6M410.47 72.87h4.6M412.77 70.57v4.6M410.47 66.65h4.6M412.77 64.35v4.6M410.47 55.6h4.6M412.77 53.3v4.6M420.1 56.31h4.6M422.4 54.01v4.6M413.57 63.51h4.6M415.87 61.21v4.6M413.57 48.65h4.6M415.87 46.35v4.6M416.1 86.64h4.6M418.4 84.34v4.6M420.1 43.71h4.6M422.4 41.41v4.6M429.73 47.78h4.6M432.03 45.48v4.6M453.78 69.86h4.6M456.08 67.56v4.6M458.13 54.52h4.6M460.43 52.22v4.6M418.24 56.02h4.6M420.54 53.72v4.6M457.93 61.02h4.6M460.23 58.72v4.6M426.85 78.62h4.6M429.15 76.32v4.6M447.34 55.24h4.6M449.64 52.94v4.6M437 49.83h4.6M439.3 47.53v4.6M437 51.68h4.6M439.3 49.38v4.6M445.34 46.93h4.6M447.64 44.63v4.6M438 49.6h4.6M440.3 47.3v4.6M425.73 71.03h4.6M428.03 68.73v4.6M456.2 80.9h4.6M458.5 78.6v4.6M410.47 54.21h4.6M412.77 51.91v4.6M416.1 62.83h4.6M418.4 60.53v4.6M410.47 70.83h4.6M412.77 68.53v4.6M438.92 67.88h4.6M441.22 65.58v4.6M410.47 48.79h4.6M412.77 46.49v4.6M425.73 74.98h4.6M428.03 72.68v4.6M435.37 71.22h4.6M437.67 68.92v4.6M410.47 79.96h4.6M412.77 77.66v4.6M418.24 78.6h4.6M420.54 76.3v4.6M406.47 78.28h4.6M408.77 75.98v4.6M427.88 62.16h4.6M430.18 59.86v4.6M427.88 60.83h4.6M430.18 58.53v4.6M431 19.1h4.6M433.3 16.8v4.6M460.5 54.74h4.6M462.8 52.44v4.6M433.7 81.2h4.6M436 78.9v4.6M458.5 71.9h4.6M460.8 69.6v4.6M439.36 71.92h4.6M441.66 69.62v4.6M406.47 66.29h4.6M408.77 63.99v4.6M413.57 52.9h4.6M415.87 50.6v4.6M501.8 63.7h4.6M504.1 61.4v4.6M490.6 72.4h4.6M492.9 70.1v4.6M468.16 53.45h4.6M470.46 51.15v4.6M410.47 69.91h4.6M412.77 67.61v4.6M451.81 49.48h4.6M454.11 47.18v4.6M433.51 59.07h4.6M435.81 56.77v4.6M406.47 62.09h4.6M408.77 59.79v4.6M493.7 54.9h4.6M496 52.6v4.6M413.57 55.93h4.6M415.87 53.63v4.6M442.47 45.61h4.6M444.77 43.31v4.6M406.47 73.22h4.6M408.77 70.92v4.6M463.32 60.69h4.6M465.62 58.39v4.6M465.7 47.56h4.6M468 45.26v4.6M435.93 72.08h4.6M438.23 69.78v4.6M467.9 52.93h4.6M470.2 50.63v4.6M446.66 55.37h4.6M448.96 53.07v4.6M418.24 49.14h4.6M420.54 46.84v4.6M438 72.48h4.6M440.3 70.18v4.6M423.2 59.09h4.6M425.5 56.79v4.6M434.16 48.14h4.6M436.46 45.84v4.6M451.77 70.3h4.6M454.07 68v4.6M418.24 86.63h4.6M420.54 84.33v4.6M474.33 52.57h4.6M476.63 50.27v4.6M450.94 55.57h4.6M453.24 53.27v4.6M413.57 82.44h4.6M415.87 80.14v4.6M418.24 64.21h4.6M420.54 61.91v4.6M410.47 71.07h4.6M412.77 68.77v4.6M472.58 49.23h4.6M474.88 46.93v4.6M459.51 43.42h4.6M461.81 41.12v4.6M406.47 66.23h4.6M408.77 63.93v4.6M406.47 47.71h4.6M408.77 45.41v4.6M431.37 57.29h4.6M433.67 54.99v4.6M444.51 64.24h4.6M446.81 61.94v4.6M406.47 77.16h4.6M408.77 74.86v4.6M452.11 54.67h4.6M454.41 52.37v4.6M430.57 61.62h4.6M432.87 59.32v4.6M466.78 58.04h4.6M469.08 55.74v4.6M426.85 55.63h4.6M429.15 53.33v4.6M406.47 61.08h4.6M408.77 58.78v4.6M406.47 65.17h4.6M408.77 62.87v4.6M449.43 60.71h4.6M451.73 58.41v4.6M455.6 80.4h4.6M457.9 78.1v4.6M410.47 83.29h4.6M412.77 80.99v4.6M437 58.83h4.6M439.3 56.53v4.6M443.58 80.41h4.6M445.88 78.11v4.6M406.47 75.03h4.6M408.77 72.73v4.6M437.51 69.7h4.6M439.81 67.4v4.6M406.47 55.81h4.6M408.77 53.51v4.6M413.57 65.05h4.6M415.87 62.75v4.6M429.73 56.35h4.6M432.03 54.05v4.6M410.47 44.53h4.6M412.77 42.23v4.6M466.3 61.66h4.6M468.6 59.36v4.6M425.73 51.81h4.6M428.03 49.51v4.6M442.99 53.56h4.6M445.29 51.26v4.6M406.47 76.42h4.6M408.77 74.12v4.6M406.47 42.99h4.6M408.77 40.69v4.6M446.11 47.88h4.6M448.41 45.58v4.6M461.61 55.8h4.6M463.91 53.5v4.6M441 59.35h4.6M443.3 57.05v4.6M413.57 78.37h4.6M415.87 76.07v4.6M472.75 59.92h4.6M475.05 57.62v4.6M445.26 64.54h4.6M447.56 62.24v4.6M429.73 71.42h4.6M432.03 69.12v4.6M458.44 47.78h4.6M460.74 45.48v4.6M406.47 58.79h4.6M408.77 56.49v4.6M416.1 61.62h4.6M418.4 59.32v4.6M458.58 49.1h4.6M460.88 46.8v4.6M410.47 71.46h4.6M412.77 69.16v4.6M406.47 66.8h4.6M408.77 64.5v4.6M410.47 79.02h4.6M412.77 76.72v4.6M406.47 54.34h4.6M408.77 52.04v4.6M416.1 75.97h4.6M418.4 73.67v4.6M447.01 45.19h4.6M449.31 42.89v4.6M481.83 56.73h4.6M484.13 54.43v4.6M446.6 82.8h4.6M448.9 80.5v4.6M446.06 72.74h4.6M448.36 70.44v4.6M410.47 61.76h4.6M412.77 59.46v4.6M410.47 45.99h4.6M412.77 43.69v4.6M447.2 57.33h4.6M449.5 55.03v4.6M416.1 76.72h4.6M418.4 74.42v4.6M416.1 39.75h4.6M418.4 37.45v4.6M434.16 56.92h4.6M436.46 54.62v4.6M430.2 34.5h4.6M432.5 32.2v4.6M448.62 54.8h4.6M450.92 52.5v4.6M456.6 57.9h4.6M458.9 55.6v4.6M469.93 64.73h4.6M472.23 62.43v4.6M410.47 42.37h4.6M412.77 40.07v4.6M453.43 60.16h4.6M455.73 57.86v4.6M464.01 61.5h4.6M466.31 59.2v4.6M444.61 48.54h4.6M446.91 46.24v4.6M418.24 50.99h4.6M420.54 48.69v4.6M413.57 53.08h4.6M415.87 50.78v4.6M413.57 50.09h4.6M415.87 47.79v4.6M406.47 52.56h4.6M408.77 50.26v4.6M418.24 67.58h4.6M420.54 65.28v4.6M423.2 67.93h4.6M425.5 65.63v4.6M474.2 79.3h4.6M476.5 77v4.6M426.85 77.24h4.6M429.15 74.94v4.6M416.1 49.11h4.6M418.4 46.81v4.6M423.2 60.27h4.6M425.5 57.97v4.6M416.1 52.21h4.6M418.4 49.91v4.6M410.5 103.2h4.6M412.8 100.9v4.6M413.7 90.8h4.6M416 88.5v4.6M406.47 63.63h4.6M408.77 61.33v4.6M417.7 93.2h4.6M420 90.9v4.6M428.83 66.92h4.6M431.13 64.62v4.6M449.89 68.15h4.6M452.19 65.85v4.6M470.7 51.03h4.6M473 48.73v4.6M427.88 43.28h4.6M430.18 40.98v4.6M429.73 52.91h4.6M432.03 50.61v4.6M420.1 53.69h4.6M422.4 51.39v4.6M416.1 45.99h4.6M418.4 43.69v4.6M457.15 56.07h4.6M459.45 53.77v4.6M477.94 62.19h4.6M480.24 59.89v4.6M438.92 67.65h4.6M441.22 65.35v4.6M438.92 50.63h4.6M441.22 48.33v4.6M429.73 51.84h4.6M432.03 49.54v4.6M430.57 51.61h4.6M432.87 49.31v4.6M439.36 76.28h4.6M441.66 73.98v4.6M424.52 74.52h4.6M426.82 72.22v4.6M406.47 62.19h4.6M408.77 59.89v4.6M410.47 45.1h4.6M412.77 42.8v4.6M442.76 65.28h4.6M445.06 62.98v4.6M448.38 72.46h4.6M450.68 70.16v4.6M461.04 47.5h4.6M463.34 45.2v4.6M467.86 59.42h4.6M470.16 57.12v4.6M421.74 72.47h4.6M424.04 70.17v4.6M406.47 48.66h4.6M408.77 46.36v4.6M421.74 47.69h4.6M424.04 45.39v4.6M438.92 48.45h4.6M441.22 46.15v4.6M434.16 77.53h4.6M436.46 75.23v4.6M410.47 69.98h4.6M412.77 67.68v4.6M451.32 56.77h4.6M453.62 54.47v4.6M420.1 67.8h4.6M422.4 65.5v4.6M421.74 77.3h4.6M424.04 75v4.6M481.95 54.45h4.6M484.25 52.15v4.6M424.52 62.27h4.6M426.82 59.97v4.6M420.1 64.78h4.6M422.4 62.48v4.6M428.83 59.29h4.6M431.13 56.99v4.6M441.38 60.23h4.6M443.68 57.93v4.6M438 56.92h4.6M440.3 54.62v4.6M425.73 41.46h4.6M428.03 39.16v4.6M459.3 82h4.6M461.6 79.7v4.6M406.47 71.18h4.6M408.77 68.88v4.6M458.01 64.38h4.6M460.31 62.08v4.6M450.64 69.98h4.6M452.94 67.68v4.6M437.51 65.55h4.6M439.81 63.25v4.6M406.47 56.59h4.6M408.77 54.29v4.6M426.85 46.01h4.6M429.15 43.71v4.6M460.79 51.5h4.6M463.09 49.2v4.6M446.28 71h4.6M448.58 68.7v4.6M455.81 72.73h4.6M458.11 70.43v4.6M458.4 51.29h4.6M460.7 48.99v4.6M423.2 62.22h4.6M425.5 59.92v4.6M437.51 65.4h4.6M439.81 63.1v4.6M442.11 59.45h4.6M444.41 57.15v4.6M413.57 57.87h4.6M415.87 55.57v4.6M406.47 53.62h4.6M408.77 51.32v4.6M434.16 55.29h4.6M436.46 52.99v4.6M437.51 51h4.6M439.81 48.7v4.6M413.57 57.13h4.6M415.87 54.83v4.6M435.37 64.12h4.6M437.67 61.82v4.6M452.35 66.25h4.6M454.65 63.95v4.6M406.47 62.31h4.6M408.77 60.01v4.6M410.47 53.68h4.6M412.77 51.38v4.6M406.5 30.5h4.6M408.8 28.2v4.6M406.47 83.84h4.6M408.77 81.54v4.6M406.47 78.75h4.6M408.77 76.45v4.6M462.92 62.82h4.6M465.22 60.52v4.6M454.71 54.37h4.6M457.01 52.07v4.6M490.2 58.6h4.6M492.5 56.3v4.6M421.74 56.54h4.6M424.04 54.24v4.6M459.51 57.07h4.6M461.81 54.77v4.6M428.83 56.88h4.6M431.13 54.58v4.6M454.07 54.76h4.6M456.37 52.46v4.6M410.47 59.58h4.6M412.77 57.28v4.6M421.74 50.93h4.6M424.04 48.63v4.6M420.1 81.5h4.6M422.4 79.2v4.6M416.1 67.59h4.6M418.4 65.29v4.6M421.74 58.19h4.6M424.04 55.89v4.6M443.45 42.68h4.6M445.75 40.38v4.6M438 50.35h4.6M440.3 48.05v4.6M435.37 57.12h4.6M437.67 54.82v4.6M416.1 83.86h4.6M418.4 81.56v4.6M438.47 62.45h4.6M440.77 60.15v4.6M433.7 93.2h4.6M436 90.9v4.6M421.74 57.29h4.6M424.04 54.99v4.6M424.52 50h4.6M426.82 47.7v4.6M406.47 60.43h4.6M408.77 58.13v4.6M410.47 46.5h4.6M412.77 44.2v4.6M421.74 54.89h4.6M424.04 52.59v4.6M420.1 86.6h4.6M422.4 84.3v4.6M406.47 76.28h4.6M408.77 73.98v4.6M447.62 48.29h4.6M449.92 45.99v4.6M421.74 49.18h4.6M424.04 46.88v4.6M427.3 86h4.6M429.6 83.7v4.6M413.57 59.82h4.6M415.87 57.52v4.6M438 80.03h4.6M440.3 77.73v4.6M437 66.16h4.6M439.3 63.86v4.6M410.47 57.85h4.6M412.77 55.55v4.6M425.73 64.81h4.6M428.03 62.51v4.6M452.28 54.3h4.6M454.58 52v4.6M426.85 44.31h4.6M429.15 42.01v4.6M416.1 57.85h4.6M418.4 55.55v4.6M453.01 55.39h4.6M455.31 53.09v4.6M439.36 58.09h4.6M441.66 55.79v4.6M442.47 62.07h4.6M444.77 59.77v4.6M416.1 47.81h4.6M418.4 45.51v4.6M422.5 87.3h4.6M424.8 85v4.6M406.47 77.05h4.6M408.77 74.75v4.6M425.73 48.64h4.6M428.03 46.34v4.6M429.73 67.03h4.6M432.03 64.73v4.6M406.47 66.2h4.6M408.77 63.9v4.6M406.47 84.79h4.6M408.77 82.49v4.6M476.45 60.8h4.6M478.75 58.5v4.6M410.47 44.96h4.6M412.77 42.66v4.6M430.57 63.44h4.6M432.87 61.14v4.6M420.1 69.23h4.6M422.4 66.93v4.6M424.52 40.43h4.6M426.82 38.13v4.6M416.1 52.01h4.6M418.4 49.71v4.6M410.5 32.4h4.6M412.8 30.1v4.6M413.57 53.17h4.6M415.87 50.87v4.6M456.37 53.23h4.6M458.67 50.93v4.6M432.12 51.43h4.6M434.42 49.13v4.6M463.48 51.1h4.6M465.78 48.8v4.6M464.85 47.79h4.6M467.15 45.49v4.6M418.24 81.86h4.6M420.54 79.56v4.6M456.11 62.17h4.6M458.41 59.87v4.6M406.47 69.8h4.6M408.77 67.5v4.6M423.2 38.81h4.6M425.5 36.51v4.6M435.37 54.58h4.6M437.67 52.28v4.6M438 52.01h4.6M440.3 49.71v4.6M420.1 43.37h4.6M422.4 41.07v4.6M413.57 65.06h4.6M415.87 62.76v4.6M454.4 67.21h4.6M456.7 64.91v4.6M410.47 74.6h4.6M412.77 72.3v4.6M410.47 49.1h4.6M412.77 46.8v4.6M410.47 53.83h4.6M412.77 51.53v4.6M413.57 47.18h4.6M415.87 44.88v4.6M455.3 71.9h4.6M457.6 69.6v4.6M420.1 53.37h4.6M422.4 51.07v4.6M452.11 51.03h4.6M454.41 48.73v4.6M449.09 72.51h4.6M451.39 70.21v4.6M424.52 57.69h4.6M426.82 55.39v4.6M479.01 51.57h4.6M481.31 49.27v4.6M410.47 58h4.6M412.77 55.7v4.6M406.47 54.29h4.6M408.77 51.99v4.6M406.47 80.47h4.6M408.77 78.17v4.6M432.12 59.29h4.6M434.42 56.99v4.6M423.2 52.66h4.6M425.5 50.36v4.6M442.11 46.52h4.6M444.41 44.22v4.6M469.71 48.77h4.6M472.01 46.47v4.6M430.57 59.56h4.6M432.87 57.26v4.6M424.52 44.91h4.6M426.82 42.61v4.6M413.57 65.13h4.6M415.87 62.83v4.6M424.52 67.76h4.6M426.82 65.46v4.6M432.12 76.73h4.6M434.42 74.43v4.6M459.3 48.03h4.6M461.6 45.73v4.6M413.57 61.45h4.6M415.87 59.15v4.6M410.47 79.67h4.6M412.77 77.37v4.6M457.93 60.52h4.6M460.23 58.22v4.6M463.3 54.75h4.6M465.6 52.45v4.6M441 46.37h4.6M443.3 44.07v4.6M462.8 31.3h4.6M465.1 29v4.6M430.57 56.18h4.6M432.87 53.88v4.6M434.16 65.46h4.6M436.46 63.16v4.6M434.16 53.82h4.6M436.46 51.52v4.6M460.68 46.81h4.6M462.98 44.51v4.6M416.1 47.15h4.6M418.4 44.85v4.6M406.47 71.4h4.6M408.77 69.1v4.6M406.47 75.8h4.6M408.77 73.5v4.6M406.47 44.92h4.6M408.77 42.62v4.6M453.18 47.82h4.6M455.48 45.52v4.6M437.51 81.86h4.6M439.81 79.56v4.6M454.06 66.15h4.6M456.36 63.85v4.6M499.4 45.6h4.6M501.7 43.3v4.6M418.24 51.98h4.6M420.54 49.68v4.6M432.12 75.31h4.6M434.42 73.01v4.6M406.47 51.06h4.6M408.77 48.76v4.6M440.21 44.76h4.6M442.51 42.46v4.6M413.57 49.04h4.6M415.87 46.74v4.6M459.33 63.1h4.6M461.63 60.8v4.6M446.48 45.41h4.6M448.78 43.11v4.6M413.57 42.63h4.6M415.87 40.33v4.6M406.47 84.14h4.6M408.77 81.84v4.6M428.83 47.41h4.6M431.13 45.11v4.6M426.85 53.65h4.6M429.15 51.35v4.6M450.22 60.11h4.6M452.52 57.81v4.6M448.93 60.81h4.6M451.23 58.51v4.6M453.46 63.03h4.6M455.76 60.73v4.6M413.57 82.04h4.6M415.87 79.74v4.6M446.32 49.26h4.6M448.62 46.96v4.6M420.1 63.34h4.6M422.4 61.04v4.6M424.52 68.77h4.6M426.82 66.47v4.6M434.78 63.74h4.6M437.08 61.44v4.6M410.47 78.73h4.6M412.77 76.43v4.6M413.57 73.51h4.6M415.87 71.21v4.6M424.52 52.24h4.6M426.82 49.94v4.6M413.57 47.05h4.6M415.87 44.75v4.6M421.74 47.7h4.6M424.04 45.4v4.6M424.52 84.89h4.6M426.82 82.59v4.6M421.74 52.93h4.6M424.04 50.63v4.6M446.23 58.39h4.6M448.53 56.09v4.6M406.47 64.33h4.6M408.77 62.03v4.6M455.45 59.91h4.6M457.75 57.61v4.6M439.79 63.15h4.6M442.09 60.85v4.6M445.56 72.75h4.6M447.86 70.45v4.6M423.2 50.09h4.6M425.5 47.79v4.6M420.1 76.9h4.6M422.4 74.6v4.6M446.03 57.03h4.6M448.33 54.73v4.6M472.57 50.44h4.6M474.87 48.14v4.6M481.5 57.56h4.6M483.8 55.26v4.6M425.73 78.97h4.6M428.03 76.67v4.6M441.75 72.82h4.6M444.05 70.52v4.6M418.24 73.86h4.6M420.54 71.56v4.6M445.4 71.95h4.6M447.7 69.65v4.6M423.2 44.12h4.6M425.5 41.82v4.6M441.38 75.44h4.6M443.68 73.14v4.6M441 69.62h4.6M443.3 67.32v4.6M466.01 60.98h4.6M468.31 58.68v4.6M427.88 66.14h4.6M430.18 63.84v4.6M465.94 53.42h4.6M468.24 51.12v4.6M406.47 81.75h4.6M408.77 79.45v4.6M457.93 53.38h4.6M460.23 51.08v4.6M424.52 55.42h4.6M426.82 53.12v4.6M421.74 60.44h4.6M424.04 58.14v4.6M413.57 51.82h4.6M415.87 49.52v4.6M433.51 80.54h4.6M435.81 78.24v4.6M438 69.17h4.6M440.3 66.87v4.6M416.1 60.99h4.6M418.4 58.69v4.6" stroke="#9acd32" stroke-width="1.35" fill="none"/><path d="M413.2 34.8h4.6M415.5 32.5v4.6M480.1 65.3h4.6M482.4 63v4.6M491.7 67.4h4.6M494 65.1v4.6M505 66.9h4.6M507.3 64.6v4.6" stroke="#556b2f" stroke-width="1.35" fill="none"/><path d="M406.5 22.3h4.6M408.8 20v4.6M410.5 21.5h4.6M412.8 19.2v4.6M413.7 23.1h4.6M416 20.8v4.6M423.3 29.5h4.6M425.6 27.2v4.6M422.5 34.5h4.6M424.8 32.2v4.6M424.9 34.5h4.6M427.2 32.2v4.6M410.5 39.6h4.6M412.8 37.3v4.6M410.5 42.8h4.6M412.8 40.5v4.6M416.1 42.8h4.6M418.4 40.5v4.6M425.7 40.4h4.6M428 38.1v4.6M430.5 37.7h4.6M432.8 35.4v4.6M441.7 30h4.6M444 27.7v4.6M447.4 30h4.6M449.7 27.7v4.6M447.4 34h4.6M449.7 31.7v4.6M449.7 35.6h4.6M452 33.3v4.6M454.6 38h4.6M456.9 35.7v4.6M428.9 46h4.6M431.2 43.7v4.6M445 47.3h4.6M447.3 45v4.6M413.7 52.5h4.6M416 50.2v4.6M406.5 55.3h4.6M408.8 53v4.6M434.6 58.9h4.6M436.9 56.6v4.6M457 58.9h4.6M459.3 56.6v4.6M454.5 37.7h4.6M456.8 35.4v4.6M494.1 31.3h4.6M496.4 29v4.6M501.8 50.1h4.6M504.1 47.8v4.6M485.7 57h4.6M488 54.7v4.6" stroke="#ff4500" stroke-width="1.35" fill="none"/><path d="M446.6 21.5h4.6M448.9 19.2v4.6M453.3 34h4.6M455.6 31.7v4.6M449 42h4.6M451.3 39.7v4.6M437.3 43.3h4.6M439.6 41v4.6M454.5 34.5h4.6M456.8 32.2v4.6M463.3 40.4h4.6M465.6 38.1v4.6M479.8 44.9h4.6M482.1 42.6v4.6" stroke="#922233" stroke-width="1.35" fill="none"/><path d="M412.9 121.8h4.6M415.2 119.5v4.6" stroke="#b8283c" stroke-width="1.35" fill="none"/></g><rect x="404" y="14" width="108.6" height="112.9" stroke="#8a8a8a" stroke-width="1.15" fill="none"/><line x1="408.77" y1="126.9" x2="408.77" y2="128.8" stroke="#444" stroke-width="0.6"/><line x1="412.77" y1="126.9" x2="412.77" y2="128.8" stroke="#444" stroke-width="0.6"/><line x1="415.87" y1="126.9" x2="415.87" y2="128.8" stroke="#444" stroke-width="0.6"/><line x1="418.4" y1="126.9" x2="418.4" y2="128.8" stroke="#444" stroke-width="0.6"/><line x1="420.54" y1="126.9" x2="420.54" y2="128.8" stroke="#444" stroke-width="0.6"/><line x1="422.4" y1="126.9" x2="422.4" y2="128.8" stroke="#444" stroke-width="0.6"/><line x1="424.04" y1="126.9" x2="424.04" y2="128.8" stroke="#444" stroke-width="0.6"/><line x1="425.5" y1="126.9" x2="425.5" y2="130.1" stroke="#444" stroke-width="0.8"/><line x1="435.13" y1="126.9" x2="435.13" y2="128.8" stroke="#444" stroke-width="0.6"/><line x1="440.77" y1="126.9" x2="440.77" y2="128.8" stroke="#444" stroke-width="0.6"/><line x1="444.77" y1="126.9" x2="444.77" y2="128.8" stroke="#444" stroke-width="0.6"/><line x1="447.87" y1="126.9" x2="447.87" y2="128.8" stroke="#444" stroke-width="0.6"/><line x1="450.4" y1="126.9" x2="450.4" y2="128.8" stroke="#444" stroke-width="0.6"/><line x1="452.54" y1="126.9" x2="452.54" y2="128.8" stroke="#444" stroke-width="0.6"/><line x1="454.4" y1="126.9" x2="454.4" y2="128.8" stroke="#444" stroke-width="0.6"/><line x1="456.04" y1="126.9" x2="456.04" y2="128.8" stroke="#444" stroke-width="0.6"/><line x1="457.5" y1="126.9" x2="457.5" y2="130.1" stroke="#444" stroke-width="0.8"/><line x1="467.13" y1="126.9" x2="467.13" y2="128.8" stroke="#444" stroke-width="0.6"/><line x1="472.77" y1="126.9" x2="472.77" y2="128.8" stroke="#444" stroke-width="0.6"/><line x1="476.77" y1="126.9" x2="476.77" y2="128.8" stroke="#444" stroke-width="0.6"/><line x1="479.87" y1="126.9" x2="479.87" y2="128.8" stroke="#444" stroke-width="0.6"/><line x1="482.4" y1="126.9" x2="482.4" y2="128.8" stroke="#444" stroke-width="0.6"/><line x1="484.54" y1="126.9" x2="484.54" y2="128.8" stroke="#444" stroke-width="0.6"/><line x1="486.4" y1="126.9" x2="486.4" y2="128.8" stroke="#444" stroke-width="0.6"/><line x1="488.04" y1="126.9" x2="488.04" y2="128.8" stroke="#444" stroke-width="0.6"/><line x1="489.5" y1="126.9" x2="489.5" y2="130.1" stroke="#444" stroke-width="0.8"/><line x1="499.13" y1="126.9" x2="499.13" y2="128.8" stroke="#444" stroke-width="0.6"/><line x1="504.77" y1="126.9" x2="504.77" y2="128.8" stroke="#444" stroke-width="0.6"/><line x1="508.77" y1="126.9" x2="508.77" y2="128.8" stroke="#444" stroke-width="0.6"/><line x1="511.87" y1="126.9" x2="511.87" y2="128.8" stroke="#444" stroke-width="0.6"/><line x1="402.1" y1="124.82" x2="404" y2="124.82" stroke="#444" stroke-width="0.6"/><line x1="402.1" y1="122.91" x2="404" y2="122.91" stroke="#444" stroke-width="0.6"/><line x1="402.1" y1="121.26" x2="404" y2="121.26" stroke="#444" stroke-width="0.6"/><line x1="402.1" y1="119.8" x2="404" y2="119.8" stroke="#444" stroke-width="0.6"/><line x1="400.8" y1="118.5" x2="404" y2="118.5" stroke="#444" stroke-width="0.8"/><line x1="402.1" y1="109.92" x2="404" y2="109.92" stroke="#444" stroke-width="0.6"/><line x1="402.1" y1="104.9" x2="404" y2="104.9" stroke="#444" stroke-width="0.6"/><line x1="402.1" y1="101.34" x2="404" y2="101.34" stroke="#444" stroke-width="0.6"/><line x1="402.1" y1="98.58" x2="404" y2="98.58" stroke="#444" stroke-width="0.6"/><line x1="402.1" y1="96.32" x2="404" y2="96.32" stroke="#444" stroke-width="0.6"/><line x1="402.1" y1="94.41" x2="404" y2="94.41" stroke="#444" stroke-width="0.6"/><line x1="402.1" y1="92.76" x2="404" y2="92.76" stroke="#444" stroke-width="0.6"/><line x1="402.1" y1="91.3" x2="404" y2="91.3" stroke="#444" stroke-width="0.6"/><line x1="400.8" y1="90" x2="404" y2="90" stroke="#444" stroke-width="0.8"/><line x1="402.1" y1="81.42" x2="404" y2="81.42" stroke="#444" stroke-width="0.6"/><line x1="402.1" y1="76.4" x2="404" y2="76.4" stroke="#444" stroke-width="0.6"/><line x1="402.1" y1="72.84" x2="404" y2="72.84" stroke="#444" stroke-width="0.6"/><line x1="402.1" y1="70.08" x2="404" y2="70.08" stroke="#444" stroke-width="0.6"/><line x1="402.1" y1="67.82" x2="404" y2="67.82" stroke="#444" stroke-width="0.6"/><line x1="402.1" y1="65.91" x2="404" y2="65.91" stroke="#444" stroke-width="0.6"/><line x1="402.1" y1="64.26" x2="404" y2="64.26" stroke="#444" stroke-width="0.6"/><line x1="402.1" y1="62.8" x2="404" y2="62.8" stroke="#444" stroke-width="0.6"/><line x1="400.8" y1="61.5" x2="404" y2="61.5" stroke="#444" stroke-width="0.8"/><line x1="402.1" y1="52.92" x2="404" y2="52.92" stroke="#444" stroke-width="0.6"/><line x1="402.1" y1="47.9" x2="404" y2="47.9" stroke="#444" stroke-width="0.6"/><line x1="402.1" y1="44.34" x2="404" y2="44.34" stroke="#444" stroke-width="0.6"/><line x1="402.1" y1="41.58" x2="404" y2="41.58" stroke="#444" stroke-width="0.6"/><line x1="402.1" y1="39.32" x2="404" y2="39.32" stroke="#444" stroke-width="0.6"/><line x1="402.1" y1="37.41" x2="404" y2="37.41" stroke="#444" stroke-width="0.6"/><line x1="402.1" y1="35.76" x2="404" y2="35.76" stroke="#444" stroke-width="0.6"/><line x1="402.1" y1="34.3" x2="404" y2="34.3" stroke="#444" stroke-width="0.6"/><line x1="400.8" y1="33" x2="404" y2="33" stroke="#444" stroke-width="0.8"/><line x1="402.1" y1="24.42" x2="404" y2="24.42" stroke="#444" stroke-width="0.6"/><line x1="402.1" y1="19.4" x2="404" y2="19.4" stroke="#444" stroke-width="0.6"/><line x1="402.1" y1="15.84" x2="404" y2="15.84" stroke="#444" stroke-width="0.6"/><text x="381.44" y="36.3" font-family='"Liberation Sans", sans-serif' font-size="8.6" font-weight="normal" fill="#111" stroke="#111" textLength="9.37" lengthAdjust="spacingAndGlyphs">10</text><text x="390.65" y="32.8" font-family='"Liberation Sans", sans-serif' font-size="6.02" font-weight="normal" fill="#111" stroke="#111" textLength="7.69" lengthAdjust="spacingAndGlyphs">−2</text><text x="381.4" y="64.8" font-family='"Liberation Sans", sans-serif' font-size="8.6" font-weight="normal" fill="#111" stroke="#111" textLength="9.37" lengthAdjust="spacingAndGlyphs">10</text><text x="390.61" y="61.3" font-family='"Liberation Sans", sans-serif' font-size="6.02" font-weight="normal" fill="#111" stroke="#111" textLength="7.69" lengthAdjust="spacingAndGlyphs">−3</text><text x="381.3" y="93.3" font-family='"Liberation Sans", sans-serif' font-size="8.6" font-weight="normal" fill="#111" stroke="#111" textLength="9.37" lengthAdjust="spacingAndGlyphs">10</text><text x="390.51" y="89.8" font-family='"Liberation Sans", sans-serif' font-size="6.02" font-weight="normal" fill="#111" stroke="#111" textLength="7.69" lengthAdjust="spacingAndGlyphs">−4</text><text x="381.39" y="121.8" font-family='"Liberation Sans", sans-serif' font-size="8.6" font-weight="normal" fill="#111" stroke="#111" textLength="9.37" lengthAdjust="spacingAndGlyphs">10</text><text x="390.6" y="118.3" font-family='"Liberation Sans", sans-serif' font-size="6.02" font-weight="normal" fill="#111" stroke="#111" textLength="7.69" lengthAdjust="spacingAndGlyphs">−5</text><clipPath id="cp1"><rect x="563.6" y="13.6" width="109.6" height="113.2"/></clipPath><g clip-path="url(#cp1)"><path d="M566.77 44.84h4.6M569.07 42.54v4.6M573.87 68.85h4.6M576.17 66.55v4.6M592 38.8h4.6M594.3 36.5v4.6M596.23 50.73h4.6M598.53 48.43v4.6M573.87 52.12h4.6M576.17 49.82v4.6M602.05 80.65h4.6M604.35 78.35v4.6M629.9 45.2h4.6M632.2 42.9v4.6M566.77 74.26h4.6M569.07 71.96v4.6M591.67 77.66h4.6M593.97 75.36v4.6M622.64 70.79h4.6M624.94 68.49v4.6M604.17 63.3h4.6M606.47 61v4.6M578.54 63.97h4.6M580.84 61.67v4.6M566.77 79.5h4.6M569.07 77.2v4.6M587.15 68.13h4.6M589.45 65.83v4.6M603.84 57.2h4.6M606.14 54.9v4.6M602.41 51.73h4.6M604.71 49.43v4.6M611.51 57.66h4.6M613.81 55.36v4.6M610.2 80.86h4.6M612.5 78.56v4.6M573.87 56.31h4.6M576.17 54.01v4.6M595.08 76.23h4.6M597.38 73.93v4.6M589.13 70.19h4.6M591.43 67.89v4.6M606.98 65.29h4.6M609.28 62.99v4.6M602.83 71.53h4.6M605.13 69.23v4.6M573.87 85.17h4.6M576.17 82.87v4.6M603.2 48.9h4.6M605.5 46.6v4.6M591.67 53.42h4.6M593.97 51.12v4.6M596.23 54.33h4.6M598.53 52.03v4.6M579.9 37.7h4.6M582.2 35.4v4.6M576.4 57.57h4.6M578.7 55.27v4.6M601.3 75.93h4.6M603.6 73.63v4.6M603.15 81.47h4.6M605.45 79.17v4.6M586.03 63.45h4.6M588.33 61.15v4.6M570.77 43.57h4.6M573.07 41.27v4.6M630.67 67.04h4.6M632.97 64.74v4.6M594.4 95.3h4.6M596.7 93v4.6M607.25 71.45h4.6M609.55 69.15v4.6M587.15 82.22h4.6M589.45 79.92v4.6M590.87 74.77h4.6M593.17 72.47v4.6M566.77 72.38h4.6M569.07 70.08v4.6M603.11 66.16h4.6M605.41 63.86v4.6M609.23 66.22h4.6M611.53 63.92v4.6M608.97 57.37h4.6M611.27 55.07v4.6M650.94 68.93h4.6M653.24 66.63v4.6M638.41 69.23h4.6M640.71 66.93v4.6M573.87 84.69h4.6M576.17 82.39v4.6M620.38 60.3h4.6M622.68 58v4.6M600.09 65.9h4.6M602.39 63.6v4.6M588.18 78.5h4.6M590.48 76.2v4.6M576.4 58.86h4.6M578.7 56.56v4.6M627.5 65.59h4.6M629.8 63.29v4.6M662.8 69.3h4.6M665.1 67v4.6M596.78 68.94h4.6M599.08 66.64v4.6M609.17 55.28h4.6M611.47 52.98v4.6M566.77 73.67h4.6M569.07 71.37v4.6M624.46 65.97h4.6M626.76 63.67v4.6M584.82 62.86h4.6M587.12 60.56v4.6M566.77 70.38h4.6M569.07 68.08v4.6M566.77 51.8h4.6M569.07 49.5v4.6M659.6 51.3h4.6M661.9 49v4.6M587.9 105.3h4.6M590.2 103v4.6M611.41 58.65h4.6M613.71 56.35v4.6M570.77 71.68h4.6M573.07 69.38v4.6M615.52 59.05h4.6M617.82 56.75v4.6M600.09 67.69h4.6M602.39 65.39v4.6M578.54 74.7h4.6M580.84 72.4v4.6M590.87 60.51h4.6M593.17 58.21v4.6M608.66 71.81h4.6M610.96 69.51v4.6M578.54 54.05h4.6M580.84 51.75v4.6M619.32 64.93h4.6M621.62 62.63v4.6M625.81 68.27h4.6M628.11 65.97v4.6M603.99 49.02h4.6M606.29 46.72v4.6M573.87 80.96h4.6M576.17 78.66v4.6M578.54 76.26h4.6M580.84 73.96v4.6M590.03 53.38h4.6M592.33 51.08v4.6M566.3 121.8h4.6M568.6 119.5v4.6M580.4 52.58h4.6M582.7 50.28v4.6M570.77 50.41h4.6M573.07 48.11v4.6M605.91 60.45h4.6M608.21 58.15v4.6M590.87 73.71h4.6M593.17 71.41v4.6M587.15 72.75h4.6M589.45 70.45v4.6M573.87 69.34h4.6M576.17 67.04v4.6M579.9 94h4.6M582.2 91.7v4.6M570.77 59.46h4.6M573.07 57.16v4.6M624.82 64.16h4.6M627.12 61.86v4.6M631.25 65.98h4.6M633.55 63.68v4.6M614.83 58.45h4.6M617.13 56.15v4.6M584.82 56.49h4.6M587.12 54.19v4.6M609.96 56.75h4.6M612.26 54.45v4.6M581.5 87.6h4.6M583.8 85.3v4.6M609.57 63.47h4.6M611.87 61.17v4.6M578.54 79.43h4.6M580.84 77.13v4.6M639.5 51.7h4.6M641.8 49.4v4.6M589.13 47.14h4.6M591.43 44.84v4.6M570.77 48.99h4.6M573.07 46.69v4.6M614.34 56.45h4.6M616.64 54.15v4.6M573.87 70.18h4.6M576.17 67.88v4.6M582.04 51.84h4.6M584.34 49.54v4.6M574.3 36.4h4.6M576.6 34.1v4.6M573.87 69.44h4.6M576.17 67.14v4.6M578.54 57.63h4.6M580.84 55.33v4.6M570.77 61.6h4.6M573.07 59.3v4.6M595.67 51.58h4.6M597.97 49.28v4.6M601.68 66.55h4.6M603.98 64.25v4.6M611.69 55.29h4.6M613.99 52.99v4.6M599.66 57.6h4.6M601.96 55.3v4.6M595.08 73.4h4.6M597.38 71.1v4.6M609.94 61.39h4.6M612.24 59.09v4.6M573.5 103.7h4.6M575.8 101.4v4.6M595.67 60.25h4.6M597.97 57.95v4.6M600.51 79.23h4.6M602.81 76.93v4.6M620.42 58.05h4.6M622.72 55.75v4.6M639.06 59.2h4.6M641.36 56.9v4.6M597.81 53.57h4.6M600.11 51.27v4.6M566.77 57.01h4.6M569.07 54.71v4.6M573.87 84.41h4.6M576.17 82.11v4.6M582.04 76.29h4.6M584.34 73.99v4.6M602.87 71.73h4.6M605.17 69.43v4.6M586.03 45.02h4.6M588.33 42.72v4.6M605.97 62.5h4.6M608.27 60.2v4.6M566.77 62.1h4.6M569.07 59.8v4.6M591.67 84.35h4.6M593.97 82.05v4.6M630.7 63.2h4.6M633 60.9v4.6M604.16 57.68h4.6M606.46 55.38v4.6M592.42 68.89h4.6M594.72 66.59v4.6M589.13 61.56h4.6M591.43 59.26v4.6M584.82 77.11h4.6M587.12 74.81v4.6M621.49 65.62h4.6M623.79 63.32v4.6M603 57.32h4.6M605.3 55.02v4.6M614.59 58.42h4.6M616.89 56.12v4.6M584.82 60.93h4.6M587.12 58.63v4.6M566.77 48.85h4.6M569.07 46.55v4.6M583.5 55.04h4.6M585.8 52.74v4.6M566.77 52.44h4.6M569.07 50.14v4.6M582.04 60.07h4.6M584.34 57.77v4.6M578.54 74.02h4.6M580.84 71.72v4.6M638.7 67.2h4.6M641 64.9v4.6M627.38 59.28h4.6M629.68 56.98v4.6M573.87 78.1h4.6M576.17 75.8v4.6M566.77 81.91h4.6M569.07 79.61v4.6M586.03 75.45h4.6M588.33 73.15v4.6M582.04 85.07h4.6M584.34 82.77v4.6M576.4 68.91h4.6M578.7 66.61v4.6M619.5 77.6h4.6M621.8 75.3v4.6M608.01 68.45h4.6M610.31 66.15v4.6M612.75 70.26h4.6M615.05 67.96v4.6M566.77 51.64h4.6M569.07 49.34v4.6M590.03 69.42h4.6M592.33 67.12v4.6M578.54 82.15h4.6M580.84 79.85v4.6M573.87 74.87h4.6M576.17 72.57v4.6M570.77 83.22h4.6M573.07 80.92v4.6M587.15 74.74h4.6M589.45 72.44v4.6M595.67 64.86h4.6M597.97 62.56v4.6M611.98 62.19h4.6M614.28 59.89v4.6M606.69 66.32h4.6M608.99 64.02v4.6M606.68 77.47h4.6M608.98 75.17v4.6M566.77 52.65h4.6M569.07 50.35v4.6M606.81 79.47h4.6M609.11 77.17v4.6M637.1 55.7h4.6M639.4 53.4v4.6M591.67 63.4h4.6M593.97 61.1v4.6M582.04 84.61h4.6M584.34 82.31v4.6M595.08 81.42h4.6M597.38 79.12v4.6M591.67 49.28h4.6M593.97 46.98v4.6M582.04 78.87h4.6M584.34 76.57v4.6M578.54 73.66h4.6M580.84 71.36v4.6M573.87 80.99h4.6M576.17 78.69v4.6M604.48 67.39h4.6M606.78 65.09v4.6M566.3 20.7h4.6M568.6 18.4v4.6M573.5 105.3h4.6M575.8 103v4.6M620.63 60.07h4.6M622.93 57.77v4.6M596.78 52.63h4.6M599.08 50.33v4.6M573.87 65.49h4.6M576.17 63.19v4.6M625.77 67.35h4.6M628.07 65.05v4.6M576.4 66.15h4.6M578.7 63.85v4.6M603.68 66.4h4.6M605.98 64.1v4.6M604.04 72.36h4.6M606.34 70.06v4.6M608.07 74.66h4.6M610.37 72.36v4.6M608.5 77.58h4.6M610.8 75.28v4.6M576.4 80.58h4.6M578.7 78.28v4.6M600.51 73.32h4.6M602.81 71.02v4.6M583.5 51.76h4.6M585.8 49.46v4.6M596.78 55.06h4.6M599.08 52.76v4.6M578.54 54.5h4.6M580.84 52.2v4.6M622.76 59.17h4.6M625.06 56.87v4.6M603.57 48.2h4.6M605.87 45.9v4.6M566.77 57.3h4.6M569.07 55v4.6M617.12 65.53h4.6M619.42 63.23v4.6M632.37 65.54h4.6M634.67 63.24v4.6M566.77 67.27h4.6M569.07 64.97v4.6M590.03 65.51h4.6M592.33 63.21v4.6M582.04 69.01h4.6M584.34 66.71v4.6M642.74 62.36h4.6M645.04 60.06v4.6M573.87 50.21h4.6M576.17 47.91v4.6M617.83 52.78h4.6M620.13 50.48v4.6M594.46 81.64h4.6M596.76 79.34v4.6M598.3 46.96h4.6M600.6 44.66v4.6M579.9 29.5h4.6M582.2 27.2v4.6M643.77 70.03h4.6M646.07 67.73v4.6M618.31 60.2h4.6M620.61 57.9v4.6M588.18 52.95h4.6M590.48 50.65v4.6M580.4 52.43h4.6M582.7 50.13v4.6M566.77 60.75h4.6M569.07 58.45v4.6M617.1 86.9h4.6M619.4 84.6v4.6M566.77 77.19h4.6M569.07 74.89v4.6M570.77 55.92h4.6M573.07 53.62v4.6M595.67 66.02h4.6M597.97 63.72v4.6M646.7 62.9h4.6M649 60.6v4.6M576.4 49.61h4.6M578.7 47.31v4.6M628.3 78.9h4.6M630.6 76.6v4.6M566.77 54.41h4.6M569.07 52.11v4.6M600.91 77.05h4.6M603.21 74.75v4.6M570.77 68.31h4.6M573.07 66.01v4.6M566.77 83.18h4.6M569.07 80.88v4.6M622.12 67.54h4.6M624.42 65.24v4.6M628.09 64.41h4.6M630.39 62.11v4.6M614.22 57.3h4.6M616.52 55v4.6M597.81 58.16h4.6M600.11 55.86v4.6M573.87 75.97h4.6M576.17 73.67v4.6M570.77 55.4h4.6M573.07 53.1v4.6M570.77 62.13h4.6M573.07 59.83v4.6M638.65 69.97h4.6M640.95 67.67v4.6M621.81 62.75h4.6M624.11 60.45v4.6M578.54 56.34h4.6M580.84 54.04v4.6M588.7 94.8h4.6M591 92.5v4.6M595.67 67.11h4.6M597.97 64.81v4.6M576.7 35.6h4.6M579 33.3v4.6M573.87 84.98h4.6M576.17 82.68v4.6M570.77 55.78h4.6M573.07 53.48v4.6M631.5 52.5h4.6M633.8 50.2v4.6M632.28 57.85h4.6M634.58 55.55v4.6M582.04 54.86h4.6M584.34 52.56v4.6M570.77 75.99h4.6M573.07 73.69v4.6M606.61 61.8h4.6M608.91 59.5v4.6M566.77 58.72h4.6M569.07 56.42v4.6M580.4 48.51h4.6M582.7 46.21v4.6M586.03 56.45h4.6M588.33 54.15v4.6M566.77 70.78h4.6M569.07 68.48v4.6M581.5 25.5h4.6M583.8 23.2v4.6M582.04 48.48h4.6M584.34 46.18v4.6M647.93 62.5h4.6M650.23 60.2v4.6M570.3 102.9h4.6M572.6 100.6v4.6M625.53 61.11h4.6M627.83 58.81v4.6M606.96 74.6h4.6M609.26 72.3v4.6M600.51 67.17h4.6M602.81 64.87v4.6M583.5 63.06h4.6M585.8 60.76v4.6M608.63 53.45h4.6M610.93 51.15v4.6M654 62.9h4.6M656.3 60.6v4.6M576.4 55.72h4.6M578.7 53.42v4.6M608.8 97.6h4.6M611.1 95.3v4.6M610.81 55.24h4.6M613.11 52.94v4.6M578.54 55.26h4.6M580.84 52.96v4.6M617.1 51.7h4.6M619.4 49.4v4.6M570.77 58.29h4.6M573.07 55.99v4.6M592.42 73.49h4.6M594.72 71.19v4.6M591.1 86h4.6M593.4 83.7v4.6M566.77 67.18h4.6M569.07 64.88v4.6M607.2 86h4.6M609.5 83.7v4.6M580.4 56.04h4.6M582.7 53.74v4.6M620.61 69.44h4.6M622.91 67.14v4.6M581.5 42.8h4.6M583.8 40.5v4.6M595.08 54.27h4.6M597.38 51.97v4.6M570.77 80.91h4.6M573.07 78.61v4.6M618.46 63.61h4.6M620.76 61.31v4.6M597.81 69.98h4.6M600.11 67.68v4.6M616.98 64.21h4.6M619.28 61.91v4.6M573.87 47.69h4.6M576.17 45.39v4.6M622.63 60.05h4.6M624.93 57.75v4.6M618.7 81.6h4.6M621 79.3v4.6M626.62 73.84h4.6M628.92 71.54v4.6M573.87 64.44h4.6M576.17 62.14v4.6M594.46 66.69h4.6M596.76 64.39v4.6M595.08 75.68h4.6M597.38 73.38v4.6M612.11 54.49h4.6M614.41 52.19v4.6M606.18 59.04h4.6M608.48 56.74v4.6M582.04 75.27h4.6M584.34 72.97v4.6M593.81 82.51h4.6M596.11 80.21v4.6M582.04 60.73h4.6M584.34 58.43v4.6M592.42 67.17h4.6M594.72 64.87v4.6M574.3 84.4h4.6M576.6 82.1v4.6M584.82 50.98h4.6M587.12 48.68v4.6M592.42 52.34h4.6M594.72 50.04v4.6M592.42 64.56h4.6M594.72 62.26v4.6M601.6 89.2h4.6M603.9 86.9v4.6M619.78 70.74h4.6M622.08 68.44v4.6M621.1 40.4h4.6M623.4 38.1v4.6M639.72 70.94h4.6M642.02 68.64v4.6M578.54 49.56h4.6M580.84 47.26v4.6M566.77 50.76h4.6M569.07 48.46v4.6M584.82 69.87h4.6M587.12 67.57v4.6M595.67 52.5h4.6M597.97 50.2v4.6M635.5 51.7h4.6M637.8 49.4v4.6M566.77 57.26h4.6M569.07 54.96v4.6M611.2 60.74h4.6M613.5 58.44v4.6M617.53 69.85h4.6M619.83 67.55v4.6M611.38 67.48h4.6M613.68 65.18v4.6M566.77 83.96h4.6M569.07 81.66v4.6M630.53 66.3h4.6M632.83 64v4.6M622.82 58.71h4.6M625.12 56.41v4.6M603.49 57.06h4.6M605.79 54.76v4.6M610.88 80.53h4.6M613.18 78.23v4.6M566.77 85.63h4.6M569.07 83.33v4.6M575.9 26.8h4.6M578.2 24.5v4.6M622.64 67.5h4.6M624.94 65.2v4.6M609.36 67.96h4.6M611.66 65.66v4.6M593.13 80.51h4.6M595.43 78.21v4.6M580.4 77.28h4.6M582.7 74.98v4.6M617.9 76h4.6M620.2 73.7v4.6M583.5 65.19h4.6M585.8 62.89v4.6M602.9 78.1h4.6M605.2 75.8v4.6M570.77 78.46h4.6M573.07 76.16v4.6M579.9 103.7h4.6M582.2 101.4v4.6M591.67 68.66h4.6M593.97 66.36v4.6M566.77 75.18h4.6M569.07 72.88v4.6M598.77 66.53h4.6M601.07 64.23v4.6M576.4 60.14h4.6M578.7 57.84v4.6M603.74 60.74h4.6M606.04 58.44v4.6M609.86 77.89h4.6M612.16 75.59v4.6M610.1 77.77h4.6M612.4 75.47v4.6M578.54 63.97h4.6M580.84 61.67v4.6M566.77 84.98h4.6M569.07 82.68v4.6M621.36 67.19h4.6M623.66 64.89v4.6M573.87 84.58h4.6M576.17 82.28v4.6M602.41 74.48h4.6M604.71 72.18v4.6M590.87 63.33h4.6M593.17 61.03v4.6M570.77 52.57h4.6M573.07 50.27v4.6M586.03 72.25h4.6M588.33 69.95v4.6M595.67 53.23h4.6M597.97 50.93v4.6M573.87 48.74h4.6M576.17 46.44v4.6M580.4 51.39h4.6M582.7 49.09v4.6M590.87 59.56h4.6M593.17 57.26v4.6M614.25 71.39h4.6M616.55 69.09v4.6M587.15 63.8h4.6M589.45 61.5v4.6M580.4 66.99h4.6M582.7 64.69v4.6M662.5 69.9h4.6M664.8 67.6v4.6M599.22 64.32h4.6M601.52 62.02v4.6M576.7 87.6h4.6M579 85.3v4.6M588.18 50.32h4.6M590.48 48.02v4.6M605.51 76.56h4.6M607.81 74.26v4.6M603.81 58.4h4.6M606.11 56.1v4.6M576.4 48.44h4.6M578.7 46.14v4.6M619.6 63.83h4.6M621.9 61.53v4.6M590.03 46.03h4.6M592.33 43.73v4.6M578.54 52.11h4.6M580.84 49.81v4.6M615.26 62.92h4.6M617.56 60.62v4.6M593.81 69.88h4.6M596.11 67.58v4.6M573.87 50.84h4.6M576.17 48.54v4.6M589.13 73.34h4.6M591.43 71.04v4.6M614.83 61.91h4.6M617.13 59.61v4.6M610.91 62.33h4.6M613.21 60.03v4.6M593.81 68.61h4.6M596.11 66.31v4.6M590.87 69.84h4.6M593.17 67.54v4.6M588.7 100.4h4.6M591 98.1v4.6M597.81 73.25h4.6M600.11 70.95v4.6M573.87 47.61h4.6M576.17 45.31v4.6M588.18 80.61h4.6M590.48 78.31v4.6M587.15 59.37h4.6M589.45 57.07v4.6M580.4 83.43h4.6M582.7 81.13v4.6M613.95 68.58h4.6M616.25 66.28v4.6M600.51 63.91h4.6M602.81 61.61v4.6M582.04 86.74h4.6M584.34 84.44v4.6M590.03 72.15h4.6M592.33 69.85v4.6M634.7 80h4.6M637 77.7v4.6M570.77 59.63h4.6M573.07 57.33v4.6M590.87 76.3h4.6M593.17 74v4.6M582.04 63.46h4.6M584.34 61.16v4.6M590.03 83.7h4.6M592.33 81.4v4.6M576.4 74.34h4.6M578.7 72.04v4.6M601.68 52.79h4.6M603.98 50.49v4.6M576.4 51h4.6M578.7 48.7v4.6M573.87 79.41h4.6M576.17 77.11v4.6M590.03 70.2h4.6M592.33 67.9v4.6M638.7 62.9h4.6M641 60.6v4.6M593.13 50.98h4.6M595.43 48.68v4.6M606.58 73.43h4.6M608.88 71.13v4.6M573.5 22.3h4.6M575.8 20v4.6M590.87 83.26h4.6M593.17 80.96v4.6M600.51 52.26h4.6M602.81 49.96v4.6M590.03 69.01h4.6M592.33 66.71v4.6M607.57 56.77h4.6M609.87 54.47v4.6M620.7 69.73h4.6M623 67.43v4.6M587.15 70.63h4.6M589.45 68.33v4.6M596.23 68.37h4.6M598.53 66.07v4.6M598.77 66.43h4.6M601.07 64.13v4.6M566.77 79.79h4.6M569.07 77.49v4.6M567.1 86h4.6M569.4 83.7v4.6M608.15 63.3h4.6M610.45 61v4.6M610.72 64.86h4.6M613.02 62.56v4.6M622.82 71.51h4.6M625.12 69.21v4.6M583.1 94h4.6M585.4 91.7v4.6M580.4 49.21h4.6M582.7 46.91v4.6M594.4 44.4h4.6M596.7 42.1v4.6M612.5 77.98h4.6M614.8 75.68v4.6M646 68.8h4.6M648.3 66.5v4.6M566.77 54.25h4.6M569.07 51.95v4.6M566.77 75.12h4.6M569.07 72.82v4.6M576.4 77.05h4.6M578.7 74.75v4.6M584.82 54.12h4.6M587.12 51.82v4.6M566.77 69.13h4.6M569.07 66.83v4.6M608.36 61.21h4.6M610.66 58.91v4.6M576.4 81.75h4.6M578.7 79.45v4.6M570.77 81.04h4.6M573.07 78.74v4.6M578.54 75.47h4.6M580.84 73.17v4.6" stroke="#9acd32" stroke-width="1.35" fill="none"/><path d="M640.3 68.5h4.6M642.6 66.2v4.6M652.4 70.9h4.6M654.7 68.6v4.6M666 73.1h4.6M668.3 70.8v4.6" stroke="#556b2f" stroke-width="1.35" fill="none"/><path d="M581.5 18.8h4.6M583.8 16.5v4.6M566.3 26.8h4.6M568.6 24.5v4.6M570.6 30.5h4.6M572.9 28.2v4.6M573.5 29.5h4.6M575.8 27.2v4.6M566.3 34h4.6M568.6 31.7v4.6M594.4 31.3h4.6M596.7 29v4.6M584.7 34.8h4.6M587 32.5v4.6M589.9 38.8h4.6M592.2 36.5v4.6M591.1 42.8h4.6M593.4 40.5v4.6M610.4 39.6h4.6M612.7 37.3v4.6M616.8 40.4h4.6M619.1 38.1v4.6M612 46h4.6M614.3 43.7v4.6M614.4 47.7h4.6M616.7 45.4v4.6M566.3 48h4.6M568.6 45.7v4.6M583.1 47.7h4.6M585.4 45.4v4.6M588.7 47.7h4.6M591 45.4v4.6M584.7 55.3h4.6M587 53v4.6M607.2 55.3h4.6M609.5 53v4.6M654.4 30.3h4.6M656.7 28v4.6M617.1 41.2h4.6M619.4 38.9v4.6M615.5 47.7h4.6M617.8 45.4v4.6M646 53.3h4.6M648.3 51v4.6M662 56.5h4.6M664.3 54.2v4.6M605.3 72.4h4.6M607.6 70.1v4.6M607.2 34h4.6M609.5 31.7v4.6" stroke="#ff4500" stroke-width="1.35" fill="none"/><path d="M608 34.5h4.6M610.3 32.2v4.6M606.4 39.6h4.6M608.7 37.3v4.6M613.6 42.8h4.6M615.9 40.5v4.6M597.6 50.5h4.6M599.9 48.2v4.6M609.6 52.1h4.6M611.9 49.8v4.6M623.5 42.8h4.6M625.8 40.5v4.6M640 43.6h4.6M642.3 41.3v4.6" stroke="#922233" stroke-width="1.35" fill="none"/><path d="M573.5 94.8h4.6M575.8 92.5v4.6" stroke="#b8283c" stroke-width="1.35" fill="none"/></g><rect x="563.6" y="13.6" width="109.6" height="113.2" stroke="#8a8a8a" stroke-width="1.15" fill="none"/><line x1="569.07" y1="126.8" x2="569.07" y2="128.7" stroke="#444" stroke-width="0.6"/><line x1="573.07" y1="126.8" x2="573.07" y2="128.7" stroke="#444" stroke-width="0.6"/><line x1="576.17" y1="126.8" x2="576.17" y2="128.7" stroke="#444" stroke-width="0.6"/><line x1="578.7" y1="126.8" x2="578.7" y2="128.7" stroke="#444" stroke-width="0.6"/><line x1="580.84" y1="126.8" x2="580.84" y2="128.7" stroke="#444" stroke-width="0.6"/><line x1="582.7" y1="126.8" x2="582.7" y2="128.7" stroke="#444" stroke-width="0.6"/><line x1="584.34" y1="126.8" x2="584.34" y2="128.7" stroke="#444" stroke-width="0.6"/><line x1="585.8" y1="126.8" x2="585.8" y2="130" stroke="#444" stroke-width="0.8"/><line x1="595.43" y1="126.8" x2="595.43" y2="128.7" stroke="#444" stroke-width="0.6"/><line x1="601.07" y1="126.8" x2="601.07" y2="128.7" stroke="#444" stroke-width="0.6"/><line x1="605.07" y1="126.8" x2="605.07" y2="128.7" stroke="#444" stroke-width="0.6"/><line x1="608.17" y1="126.8" x2="608.17" y2="128.7" stroke="#444" stroke-width="0.6"/><line x1="610.7" y1="126.8" x2="610.7" y2="128.7" stroke="#444" stroke-width="0.6"/><line x1="612.84" y1="126.8" x2="612.84" y2="128.7" stroke="#444" stroke-width="0.6"/><line x1="614.7" y1="126.8" x2="614.7" y2="128.7" stroke="#444" stroke-width="0.6"/><line x1="616.34" y1="126.8" x2="616.34" y2="128.7" stroke="#444" stroke-width="0.6"/><line x1="617.8" y1="126.8" x2="617.8" y2="130" stroke="#444" stroke-width="0.8"/><line x1="627.43" y1="126.8" x2="627.43" y2="128.7" stroke="#444" stroke-width="0.6"/><line x1="633.07" y1="126.8" x2="633.07" y2="128.7" stroke="#444" stroke-width="0.6"/><line x1="637.07" y1="126.8" x2="637.07" y2="128.7" stroke="#444" stroke-width="0.6"/><line x1="640.17" y1="126.8" x2="640.17" y2="128.7" stroke="#444" stroke-width="0.6"/><line x1="642.7" y1="126.8" x2="642.7" y2="128.7" stroke="#444" stroke-width="0.6"/><line x1="644.84" y1="126.8" x2="644.84" y2="128.7" stroke="#444" stroke-width="0.6"/><line x1="646.7" y1="126.8" x2="646.7" y2="128.7" stroke="#444" stroke-width="0.6"/><line x1="648.34" y1="126.8" x2="648.34" y2="128.7" stroke="#444" stroke-width="0.6"/><line x1="649.8" y1="126.8" x2="649.8" y2="130" stroke="#444" stroke-width="0.8"/><line x1="659.43" y1="126.8" x2="659.43" y2="128.7" stroke="#444" stroke-width="0.6"/><line x1="665.07" y1="126.8" x2="665.07" y2="128.7" stroke="#444" stroke-width="0.6"/><line x1="669.07" y1="126.8" x2="669.07" y2="128.7" stroke="#444" stroke-width="0.6"/><line x1="672.17" y1="126.8" x2="672.17" y2="128.7" stroke="#444" stroke-width="0.6"/><line x1="561.7" y1="125.85" x2="563.6" y2="125.85" stroke="#444" stroke-width="0.6"/><line x1="561.7" y1="123.96" x2="563.6" y2="123.96" stroke="#444" stroke-width="0.6"/><line x1="561.7" y1="122.29" x2="563.6" y2="122.29" stroke="#444" stroke-width="0.6"/><line x1="560.4" y1="120.8" x2="563.6" y2="120.8" stroke="#444" stroke-width="0.8"/><line x1="561.7" y1="110.99" x2="563.6" y2="110.99" stroke="#444" stroke-width="0.6"/><line x1="561.7" y1="105.25" x2="563.6" y2="105.25" stroke="#444" stroke-width="0.6"/><line x1="561.7" y1="101.17" x2="563.6" y2="101.17" stroke="#444" stroke-width="0.6"/><line x1="561.7" y1="98.01" x2="563.6" y2="98.01" stroke="#444" stroke-width="0.6"/><line x1="561.7" y1="95.43" x2="563.6" y2="95.43" stroke="#444" stroke-width="0.6"/><line x1="561.7" y1="93.25" x2="563.6" y2="93.25" stroke="#444" stroke-width="0.6"/><line x1="561.7" y1="91.36" x2="563.6" y2="91.36" stroke="#444" stroke-width="0.6"/><line x1="561.7" y1="89.69" x2="563.6" y2="89.69" stroke="#444" stroke-width="0.6"/><line x1="560.4" y1="88.2" x2="563.6" y2="88.2" stroke="#444" stroke-width="0.8"/><line x1="561.7" y1="78.39" x2="563.6" y2="78.39" stroke="#444" stroke-width="0.6"/><line x1="561.7" y1="72.65" x2="563.6" y2="72.65" stroke="#444" stroke-width="0.6"/><line x1="561.7" y1="68.57" x2="563.6" y2="68.57" stroke="#444" stroke-width="0.6"/><line x1="561.7" y1="65.41" x2="563.6" y2="65.41" stroke="#444" stroke-width="0.6"/><line x1="561.7" y1="62.83" x2="563.6" y2="62.83" stroke="#444" stroke-width="0.6"/><line x1="561.7" y1="60.65" x2="563.6" y2="60.65" stroke="#444" stroke-width="0.6"/><line x1="561.7" y1="58.76" x2="563.6" y2="58.76" stroke="#444" stroke-width="0.6"/><line x1="561.7" y1="57.09" x2="563.6" y2="57.09" stroke="#444" stroke-width="0.6"/><line x1="560.4" y1="55.6" x2="563.6" y2="55.6" stroke="#444" stroke-width="0.8"/><line x1="561.7" y1="45.79" x2="563.6" y2="45.79" stroke="#444" stroke-width="0.6"/><line x1="561.7" y1="40.05" x2="563.6" y2="40.05" stroke="#444" stroke-width="0.6"/><line x1="561.7" y1="35.97" x2="563.6" y2="35.97" stroke="#444" stroke-width="0.6"/><line x1="561.7" y1="32.81" x2="563.6" y2="32.81" stroke="#444" stroke-width="0.6"/><line x1="561.7" y1="30.23" x2="563.6" y2="30.23" stroke="#444" stroke-width="0.6"/><line x1="561.7" y1="28.05" x2="563.6" y2="28.05" stroke="#444" stroke-width="0.6"/><line x1="561.7" y1="26.16" x2="563.6" y2="26.16" stroke="#444" stroke-width="0.6"/><line x1="561.7" y1="24.49" x2="563.6" y2="24.49" stroke="#444" stroke-width="0.6"/><line x1="560.4" y1="23" x2="563.6" y2="23" stroke="#444" stroke-width="0.8"/><text x="541.04" y="26.3" font-family='"Liberation Sans", sans-serif' font-size="8.6" font-weight="normal" fill="#111" stroke="#111" textLength="9.37" lengthAdjust="spacingAndGlyphs">10</text><text x="550.25" y="22.8" font-family='"Liberation Sans", sans-serif' font-size="6.02" font-weight="normal" fill="#111" stroke="#111" textLength="7.69" lengthAdjust="spacingAndGlyphs">−2</text><text x="541" y="58.9" font-family='"Liberation Sans", sans-serif' font-size="8.6" font-weight="normal" fill="#111" stroke="#111" textLength="9.37" lengthAdjust="spacingAndGlyphs">10</text><text x="550.21" y="55.4" font-family='"Liberation Sans", sans-serif' font-size="6.02" font-weight="normal" fill="#111" stroke="#111" textLength="7.69" lengthAdjust="spacingAndGlyphs">−3</text><text x="540.9" y="91.5" font-family='"Liberation Sans", sans-serif' font-size="8.6" font-weight="normal" fill="#111" stroke="#111" textLength="9.37" lengthAdjust="spacingAndGlyphs">10</text><text x="550.11" y="88" font-family='"Liberation Sans", sans-serif' font-size="6.02" font-weight="normal" fill="#111" stroke="#111" textLength="7.69" lengthAdjust="spacingAndGlyphs">−4</text><text x="540.99" y="124.1" font-family='"Liberation Sans", sans-serif' font-size="8.6" font-weight="normal" fill="#111" stroke="#111" textLength="9.37" lengthAdjust="spacingAndGlyphs">10</text><text x="550.2" y="120.6" font-family='"Liberation Sans", sans-serif' font-size="6.02" font-weight="normal" fill="#111" stroke="#111" textLength="7.69" lengthAdjust="spacingAndGlyphs">−5</text><clipPath id="cp2"><rect x="403.8" y="149.5" width="108.7" height="113.5"/></clipPath><g clip-path="url(#cp2)"><path d="M413.5 165h4.6M415.8 162.7v4.6" stroke="#556b2f" stroke-width="1.35" fill="none"/><path d="M406.47 177.9h4.6M408.77 175.6v4.6M447.06 184.53h4.6M449.36 182.23v4.6M428.83 193.51h4.6M431.13 191.21v4.6M437 200.3h4.6M439.3 198v4.6M442.47 175.86h4.6M444.77 173.56v4.6M446.78 186.1h4.6M449.08 183.8v4.6M474.5 197.9h4.6M476.8 195.6v4.6M420.1 196.82h4.6M422.4 194.52v4.6M447.5 193.07h4.6M449.8 190.77v4.6M423.2 188.7h4.6M425.5 186.4v4.6M425.73 195.7h4.6M428.03 193.4v4.6M420.1 186.38h4.6M422.4 184.08v4.6M424.52 200.98h4.6M426.82 198.68v4.6M410.47 182.16h4.6M412.77 179.86v4.6M418.24 207.8h4.6M420.54 205.5v4.6M424.52 184.41h4.6M426.82 182.11v4.6M447.19 186.45h4.6M449.49 184.15v4.6M423.2 163.94h4.6M425.5 161.64v4.6M437 187.12h4.6M439.3 184.82v4.6M416.1 212.59h4.6M418.4 210.29v4.6M432.83 169.09h4.6M435.13 166.79v4.6M413.57 212.53h4.6M415.87 210.23v4.6M461.23 196.77h4.6M463.53 194.47v4.6M420.1 205.09h4.6M422.4 202.79v4.6M469.31 191.12h4.6M471.61 188.82v4.6M406.47 207.42h4.6M408.77 205.12v4.6M420.1 198.9h4.6M422.4 196.6v4.6M410.47 175.1h4.6M412.77 172.8v4.6M427.9 218.6h4.6M430.2 216.3v4.6M435.93 164.83h4.6M438.23 162.53v4.6M406.47 186.75h4.6M408.77 184.45v4.6M444.85 187.6h4.6M447.15 185.3v4.6M458.28 179.66h4.6M460.58 177.36v4.6M406.47 163.68h4.6M408.77 161.38v4.6M424.52 178.53h4.6M426.82 176.23v4.6M449.59 186.12h4.6M451.89 183.82v4.6M433.51 201.9h4.6M435.81 199.6v4.6M461.35 183.83h4.6M463.65 181.53v4.6M463.11 182.4h4.6M465.41 180.1v4.6M426.85 202.22h4.6M429.15 199.92v4.6M406.47 207.85h4.6M408.77 205.55v4.6M447.82 183.32h4.6M450.12 181.02v4.6M406.47 201.7h4.6M408.77 199.4v4.6M467.17 182.71h4.6M469.47 180.41v4.6M406.47 190.17h4.6M408.77 187.87v4.6M427.88 191.34h4.6M430.18 189.04v4.6M424.52 201.73h4.6M426.82 199.43v4.6M438.47 190.17h4.6M440.77 187.87v4.6M484.51 181.41h4.6M486.81 179.11v4.6M424.52 202.14h4.6M426.82 199.84v4.6M416.1 200.83h4.6M418.4 198.53v4.6M420.1 203.13h4.6M422.4 200.83v4.6M410.47 185.62h4.6M412.77 183.32v4.6M423.1 216.5h4.6M425.4 214.2v4.6M418.24 178.5h4.6M420.54 176.2v4.6M455.66 180.19h4.6M457.96 177.89v4.6M406.47 188.99h4.6M408.77 186.69v4.6M427.88 181.26h4.6M430.18 178.96v4.6M435.37 191.82h4.6M437.67 189.52v4.6M431.37 179.67h4.6M433.67 177.37v4.6M454.45 182.71h4.6M456.75 180.41v4.6M425.73 177.32h4.6M428.03 175.02v4.6M436.48 186.06h4.6M438.78 183.76v4.6M429.73 170.29h4.6M432.03 167.99v4.6M420.1 165.26h4.6M422.4 162.96v4.6M457.46 168.95h4.6M459.76 166.65v4.6M438.47 167.49h4.6M440.77 165.19v4.6M423.2 191.97h4.6M425.5 189.67v4.6M438.47 174.44h4.6M440.77 172.14v4.6M420.1 194.25h4.6M422.4 191.95v4.6M444.84 194.03h4.6M447.14 191.73v4.6M406.47 188.91h4.6M408.77 186.61v4.6M434.78 189.13h4.6M437.08 186.83v4.6M449.13 188.03h4.6M451.43 185.73v4.6M432.12 190.21h4.6M434.42 187.91v4.6M420.1 166.45h4.6M422.4 164.15v4.6M425.73 188.78h4.6M428.03 186.48v4.6M425.73 180.71h4.6M428.03 178.41v4.6M453.96 166.07h4.6M456.26 163.77v4.6M437 167.31h4.6M439.3 165.01v4.6M406.47 210.65h4.6M408.77 208.35v4.6M406.47 206.95h4.6M408.77 204.65v4.6M451.28 185.79h4.6M453.58 183.49v4.6M413.57 179.44h4.6M415.87 177.14v4.6M432.83 185.63h4.6M435.13 183.33v4.6M410.47 205.8h4.6M412.77 203.5v4.6M423.2 201.71h4.6M425.5 199.41v4.6M428.83 190.94h4.6M431.13 188.64v4.6M425.73 195.27h4.6M428.03 192.97v4.6M470.76 179.98h4.6M473.06 177.68v4.6M434 217.8h4.6M436.3 215.5v4.6M461.9 185.64h4.6M464.2 183.34v4.6M434.16 174.52h4.6M436.46 172.22v4.6M461.7 169h4.6M464 166.7v4.6M413.57 173.32h4.6M415.87 171.02v4.6M406.47 220.95h4.6M408.77 218.65v4.6M441.75 180.83h4.6M444.05 178.53v4.6M463.95 190.11h4.6M466.25 187.81v4.6M406.47 201.55h4.6M408.77 199.25v4.6M406.47 193.55h4.6M408.77 191.25v4.6M431.37 184.99h4.6M433.67 182.69v4.6M447.2 205.8h4.6M449.5 203.5v4.6M472.32 183.61h4.6M474.62 181.31v4.6M467.56 184.94h4.6M469.86 182.64v4.6M421.74 188.14h4.6M424.04 185.84v4.6M406.47 206.07h4.6M408.77 203.77v4.6M418.24 189.44h4.6M420.54 187.14v4.6M462.75 183.96h4.6M465.05 181.66v4.6M410.47 216.71h4.6M412.77 214.41v4.6M410.47 199.73h4.6M412.77 197.43v4.6M488.65 185.6h4.6M490.95 183.3v4.6M434.16 180.32h4.6M436.46 178.02v4.6M413.57 212.13h4.6M415.87 209.83v4.6M427.88 201.42h4.6M430.18 199.12v4.6M410.47 204.97h4.6M412.77 202.67v4.6M478.39 187.35h4.6M480.69 185.05v4.6M433.51 173.66h4.6M435.81 171.36v4.6M429.73 184.56h4.6M432.03 182.26v4.6M469.6 178.1h4.6M471.9 175.8v4.6M406.47 199.34h4.6M408.77 197.04v4.6M420.1 208.25h4.6M422.4 205.95v4.6M488.81 184.67h4.6M491.11 182.37v4.6M415.9 226.2h4.6M418.2 223.9v4.6M427.88 179.08h4.6M430.18 176.78v4.6M462.48 191.56h4.6M464.78 189.26v4.6M489.8 185.1h4.6M492.1 182.8v4.6M426.85 186.95h4.6M429.15 184.65v4.6M427.88 185.83h4.6M430.18 183.53v4.6M410.47 173.87h4.6M412.77 171.57v4.6M443.98 166.8h4.6M446.28 164.5v4.6M410.47 194.42h4.6M412.77 192.12v4.6M413.57 178.33h4.6M415.87 176.03v4.6M424.52 182.32h4.6M426.82 180.02v4.6M463.34 177.7h4.6M465.64 175.4v4.6M418.24 172.33h4.6M420.54 170.03v4.6M488.08 186.21h4.6M490.38 183.91v4.6M432.83 182.71h4.6M435.13 180.41v4.6M410.47 194.91h4.6M412.77 192.61v4.6M454.83 182.02h4.6M457.13 179.72v4.6M425.73 177.99h4.6M428.03 175.69v4.6M432 160.2h4.6M434.3 157.9v4.6M410.47 171.23h4.6M412.77 168.93v4.6M480.39 179.63h4.6M482.69 177.33v4.6M452.91 188.16h4.6M455.21 185.86v4.6M455.04 177.55h4.6M457.34 175.25v4.6M426.85 192.5h4.6M429.15 190.2v4.6M459.32 180.98h4.6M461.62 178.68v4.6M445.13 188.48h4.6M447.43 186.18v4.6M450.72 184.32h4.6M453.02 182.02v4.6M424.52 204.03h4.6M426.82 201.73v4.6M461.84 189.57h4.6M464.14 187.27v4.6M425.73 175.07h4.6M428.03 172.77v4.6M424.52 200.13h4.6M426.82 197.83v4.6M441.75 190.39h4.6M444.05 188.09v4.6M416.1 184.47h4.6M418.4 182.17v4.6M413.5 167.6h4.6M415.8 165.3v4.6M486.33 191.44h4.6M488.63 189.14v4.6M420.1 176.96h4.6M422.4 174.66v4.6M432.83 196.38h4.6M435.13 194.08v4.6M406.47 213.51h4.6M408.77 211.21v4.6M432.83 171.66h4.6M435.13 169.36v4.6M449.09 189.07h4.6M451.39 186.77v4.6M453.53 181.89h4.6M455.83 179.59v4.6M421.74 197.03h4.6M424.04 194.73v4.6M448.02 191.76h4.6M450.32 189.46v4.6M423.2 163.22h4.6M425.5 160.92v4.6M410.47 209.77h4.6M412.77 207.47v4.6M406.47 218.01h4.6M408.77 215.71v4.6M410.47 172.48h4.6M412.77 170.18v4.6M424.52 204.9h4.6M426.82 202.6v4.6M418.24 202h4.6M420.54 199.7v4.6M456.22 183.29h4.6M458.52 180.99v4.6M435.93 192.08h4.6M438.23 189.78v4.6M455.36 181.17h4.6M457.66 178.87v4.6M437.51 184.02h4.6M439.81 181.72v4.6M438 184.88h4.6M440.3 182.58v4.6M478.22 181.9h4.6M480.52 179.6v4.6M413.57 178.17h4.6M415.87 175.87v4.6M410.47 176.41h4.6M412.77 174.11v4.6M410.47 197.38h4.6M412.77 195.08v4.6M439.79 186.3h4.6M442.09 184v4.6M406.47 173.38h4.6M408.77 171.08v4.6M413.57 184.83h4.6M415.87 182.53v4.6M451.32 178.32h4.6M453.62 176.02v4.6M440.61 180.79h4.6M442.91 178.49v4.6M421.74 190.21h4.6M424.04 187.91v4.6M465.77 182.55h4.6M468.07 180.25v4.6M448.23 183.91h4.6M450.53 181.61v4.6M406.47 200.66h4.6M408.77 198.36v4.6M448.29 190.73h4.6M450.59 188.43v4.6M421.74 202.65h4.6M424.04 200.35v4.6M416.1 194.88h4.6M418.4 192.58v4.6M432.12 186.27h4.6M434.42 183.97v4.6M410.47 215.19h4.6M412.77 212.89v4.6M432.12 199.06h4.6M434.42 196.76v4.6M433.51 180.95h4.6M435.81 178.65v4.6M406.3 225h4.6M408.6 222.7v4.6M438.47 191.84h4.6M440.77 189.54v4.6M441 181.8h4.6M443.3 179.5v4.6M410.47 202.01h4.6M412.77 199.71v4.6M410.47 199.52h4.6M412.77 197.22v4.6M429.73 195.91h4.6M432.03 193.61v4.6M442.4 163.4h4.6M444.7 161.1v4.6M448.16 200.23h4.6M450.46 197.93v4.6M423.2 196.09h4.6M425.5 193.79v4.6M457.27 179.51h4.6M459.57 177.21v4.6M406.47 197.5h4.6M408.77 195.2v4.6M425.73 185.13h4.6M428.03 182.83v4.6M450.13 182.78h4.6M452.43 180.48v4.6M451.88 183.88h4.6M454.18 181.58v4.6M481.62 191.91h4.6M483.92 189.61v4.6M406.47 197.44h4.6M408.77 195.14v4.6M421.74 185.01h4.6M424.04 182.71v4.6M431.37 163.17h4.6M433.67 160.87v4.6M472.23 183.59h4.6M474.53 181.29v4.6M406.47 207.68h4.6M408.77 205.38v4.6M413.57 190.4h4.6M415.87 188.1v4.6M441.75 179.04h4.6M444.05 176.74v4.6M486.49 191.71h4.6M488.79 189.41v4.6M410.47 208.9h4.6M412.77 206.6v4.6M437.51 179.24h4.6M439.81 176.94v4.6M458.23 174.92h4.6M460.53 172.62v4.6M406.47 164.07h4.6M408.77 161.77v4.6M421.74 204.35h4.6M424.04 202.05v4.6M418.24 184.65h4.6M420.54 182.35v4.6M465.71 179.87h4.6M468.01 177.57v4.6M446.77 182.3h4.6M449.07 180v4.6M432.83 165.5h4.6M435.13 163.2v4.6M413.57 211.31h4.6M415.87 209.01v4.6M462.07 196.98h4.6M464.37 194.68v4.6M413.57 174.71h4.6M415.87 172.41v4.6M423.2 190.66h4.6M425.5 188.36v4.6M406.47 182.27h4.6M408.77 179.97v4.6M458.98 186.35h4.6M461.28 184.05v4.6M472.47 189.55h4.6M474.77 187.25v4.6M406.47 205.27h4.6M408.77 202.97v4.6M454.43 193.29h4.6M456.73 190.99v4.6M466.91 186.75h4.6M469.21 184.45v4.6M406.47 191.21h4.6M408.77 188.91v4.6M424.52 190.42h4.6M426.82 188.12v4.6M462.25 184.35h4.6M464.55 182.05v4.6M478.19 178.82h4.6M480.49 176.52v4.6M453.73 185.61h4.6M456.03 183.31v4.6M460.12 183.36h4.6M462.42 181.06v4.6M413.57 181.91h4.6M415.87 179.61v4.6M421.74 196.25h4.6M424.04 193.95v4.6M476.72 186.06h4.6M479.02 183.76v4.6M410.3 157h4.6M412.6 154.7v4.6M436.48 192.17h4.6M438.78 189.87v4.6M455.15 193.58h4.6M457.45 191.28v4.6M459.19 181.81h4.6M461.49 179.51v4.6M410.47 165.58h4.6M412.77 163.28v4.6M406.47 210.04h4.6M408.77 207.74v4.6M456.49 169.13h4.6M458.79 166.83v4.6M460.1 168.2h4.6M462.4 165.9v4.6M406.47 186.74h4.6M408.77 184.44v4.6M410.47 213.59h4.6M412.77 211.29v4.6M432.12 181.74h4.6M434.42 179.44v4.6M447.19 190.34h4.6M449.49 188.04v4.6M455.23 172.77h4.6M457.53 170.47v4.6M418.24 172.02h4.6M420.54 169.72v4.6M458.12 171.43h4.6M460.42 169.13v4.6M455.59 195.44h4.6M457.89 193.14v4.6M413.57 206.19h4.6M415.87 203.89v4.6M416.1 193.56h4.6M418.4 191.26v4.6M410.47 181.08h4.6M412.77 178.78v4.6M451.57 189.42h4.6M453.87 187.12v4.6M410.47 211.57h4.6M412.77 209.27v4.6M416.1 214.9h4.6M418.4 212.6v4.6M416.1 190.57h4.6M418.4 188.27v4.6M413.57 201.65h4.6M415.87 199.35v4.6M413.57 194.83h4.6M415.87 192.53v4.6M457.62 176.75h4.6M459.92 174.45v4.6M451.54 174.37h4.6M453.84 172.07v4.6M430.57 201.83h4.6M432.87 199.53v4.6M455.84 171.09h4.6M458.14 168.79v4.6M471.3 174.36h4.6M473.6 172.06v4.6M428.83 164.52h4.6M431.13 162.22v4.6M410.47 187.46h4.6M412.77 185.16v4.6M434.16 163.85h4.6M436.46 161.55v4.6M406.47 212.15h4.6M408.77 209.85v4.6M493.7 179.4h4.6M496 177.1v4.6M457.39 168.5h4.6M459.69 166.2v4.6M437.51 183.31h4.6M439.81 181.01v4.6M420.1 178.73h4.6M422.4 176.43v4.6M431.37 186.86h4.6M433.67 184.56v4.6M433.51 189.54h4.6M435.81 187.24v4.6M406.47 185.33h4.6M408.77 183.03v4.6M434.78 177.56h4.6M437.08 175.26v4.6M416.1 174.18h4.6M418.4 171.88v4.6M410.47 217.6h4.6M412.77 215.3v4.6M413.57 202.18h4.6M415.87 199.88v4.6M449.28 195.94h4.6M451.58 193.64v4.6M454.23 192.45h4.6M456.53 190.15v4.6M406.47 192.89h4.6M408.77 190.59v4.6M432.83 167.32h4.6M435.13 165.02v4.6M406.47 186.55h4.6M408.77 184.25v4.6M444.65 181.26h4.6M446.95 178.96v4.6M416.1 212.44h4.6M418.4 210.14v4.6M406.47 207.07h4.6M408.77 204.77v4.6M425.73 191.77h4.6M428.03 189.47v4.6M437 180.78h4.6M439.3 178.48v4.6M455.17 183.11h4.6M457.47 180.81v4.6M410.47 183.62h4.6M412.77 181.32v4.6M443.79 195.49h4.6M446.09 193.19v4.6M424.52 192.97h4.6M426.82 190.67v4.6M406.47 169.67h4.6M408.77 167.37v4.6M406.47 165.97h4.6M408.77 163.67v4.6M406.47 187.16h4.6M408.77 184.86v4.6M418.24 190.52h4.6M420.54 188.22v4.6M445.76 197.78h4.6M448.06 195.48v4.6M420.1 203.28h4.6M422.4 200.98v4.6M459.26 167.27h4.6M461.56 164.97v4.6M421.74 189.94h4.6M424.04 187.64v4.6M428.83 206.9h4.6M431.13 204.6v4.6M458.37 179.49h4.6M460.67 177.19v4.6M424.52 188.39h4.6M426.82 186.09v4.6M446.56 191.04h4.6M448.86 188.74v4.6M418.24 180.39h4.6M420.54 178.09v4.6M446.99 173.15h4.6M449.29 170.85v4.6M455.63 172.01h4.6M457.93 169.71v4.6M410.47 194.62h4.6M412.77 192.32v4.6M427.88 191.34h4.6M430.18 189.04v4.6M425.73 194.6h4.6M428.03 192.3v4.6M474.01 184.43h4.6M476.31 182.13v4.6M418.24 192.11h4.6M420.54 189.81v4.6M482.64 188.35h4.6M484.94 186.05v4.6M418.24 194.1h4.6M420.54 191.8v4.6M473.57 177.51h4.6M475.87 175.21v4.6M427.88 195.3h4.6M430.18 193v4.6M410.3 257.1h4.6M412.6 254.8v4.6M434 213h4.6M436.3 210.7v4.6M484.15 187.63h4.6M486.45 185.33v4.6M425.73 183.24h4.6M428.03 180.94v4.6M425.73 183.49h4.6M428.03 181.19v4.6M413.57 204.57h4.6M415.87 202.27v4.6M439.36 194.38h4.6M441.66 192.08v4.6M406.47 196.59h4.6M408.77 194.29v4.6M441.38 187.31h4.6M443.68 185.01v4.6M438.92 183.63h4.6M441.22 181.33v4.6M406.47 210.39h4.6M408.77 208.09v4.6M433.51 163.95h4.6M435.81 161.65v4.6M501.8 190.3h4.6M504.1 188v4.6M456.38 178.96h4.6M458.68 176.66v4.6M452.91 167.8h4.6M455.21 165.5v4.6M443.58 188.33h4.6M445.88 186.03v4.6M406.47 210.62h4.6M408.77 208.32v4.6M450.61 194.03h4.6M452.91 191.73v4.6M461.54 181.71h4.6M463.84 179.41v4.6M470.49 188.58h4.6M472.79 186.28v4.6M413.57 211.49h4.6M415.87 209.19v4.6M463.38 188.27h4.6M465.68 185.97v4.6M460.97 193.49h4.6M463.27 191.19v4.6M420.1 191.35h4.6M422.4 189.05v4.6M413.5 160.2h4.6M415.8 157.9v4.6M442.56 177.88h4.6M444.86 175.58v4.6M410.47 212.35h4.6M412.77 210.05v4.6M413.57 191.51h4.6M415.87 189.21v4.6M416.1 192.81h4.6M418.4 190.51v4.6M406.47 186.1h4.6M408.77 183.8v4.6M464.2 191.07h4.6M466.5 188.77v4.6M461.92 179.1h4.6M464.22 176.8v4.6M413.57 197.21h4.6M415.87 194.91v4.6M447.33 182.48h4.6M449.63 180.18v4.6M425.73 193.36h4.6M428.03 191.06v4.6M434.16 195.06h4.6M436.46 192.76v4.6M425.73 166.79h4.6M428.03 164.49v4.6M420.1 170.7h4.6M422.4 168.4v4.6M442.58 184.77h4.6M444.88 182.47v4.6M435.37 200.9h4.6M437.67 198.6v4.6M413.57 163.84h4.6M415.87 161.54v4.6M455.65 173.54h4.6M457.95 171.24v4.6M441.75 195.82h4.6M444.05 193.52v4.6M427.88 193.36h4.6M430.18 191.06v4.6M423.2 173.04h4.6M425.5 170.74v4.6M424.52 189.3h4.6M426.82 187v4.6M413.57 186.11h4.6M415.87 183.81v4.6M425.73 196.43h4.6M428.03 194.13v4.6M410.47 214.27h4.6M412.77 211.97v4.6M406.47 196.67h4.6M408.77 194.37v4.6M420.1 205.7h4.6M422.4 203.4v4.6M426.85 204.3h4.6M429.15 202v4.6M453.1 185.66h4.6M455.4 183.36v4.6M410.47 174.25h4.6M412.77 171.95v4.6M447.28 195.04h4.6M449.58 192.74v4.6M423.2 186.23h4.6M425.5 183.93v4.6M466.54 185.43h4.6M468.84 183.13v4.6M421.74 205.09h4.6M424.04 202.79v4.6M413.57 196.11h4.6M415.87 193.81v4.6M451.75 169.52h4.6M454.05 167.22v4.6M420.1 193.54h4.6M422.4 191.24v4.6M410.47 204.93h4.6M412.77 202.63v4.6M410.47 214.48h4.6M412.77 212.18v4.6M431.37 190.37h4.6M433.67 188.07v4.6M462.84 177.94h4.6M465.14 175.64v4.6M490.6 196.3h4.6M492.9 194v4.6M439.79 195.56h4.6M442.09 193.26v4.6M406.47 218.88h4.6M408.77 216.58v4.6M406.47 199.48h4.6M408.77 197.18v4.6M438.92 187.5h4.6M441.22 185.2v4.6M413.57 195.38h4.6M415.87 193.08v4.6M418.24 207.31h4.6M420.54 205.01v4.6M413.57 212.14h4.6M415.87 209.84v4.6M418.24 213.37h4.6M420.54 211.07v4.6M413.57 183.69h4.6M415.87 181.39v4.6M424.52 180.24h4.6M426.82 177.94v4.6M445.31 197.57h4.6M447.61 195.27v4.6M430.57 183.67h4.6M432.87 181.37v4.6M416.1 192.87h4.6M418.4 190.57v4.6M442.11 176.74h4.6M444.41 174.44v4.6M406.47 217.86h4.6M408.77 215.56v4.6M429.73 185.29h4.6M432.03 182.99v4.6M406.47 213.9h4.6M408.77 211.6v4.6M451.77 178.22h4.6M454.07 175.92v4.6M413.57 199.06h4.6M415.87 196.76v4.6M444 205.8h4.6M446.3 203.5v4.6M420.1 185.86h4.6M422.4 183.56v4.6M435.93 202.43h4.6M438.23 200.13v4.6M499.4 170.6h4.6M501.7 168.3v4.6M410.47 199.03h4.6M412.77 196.73v4.6M458.94 187.53h4.6M461.24 185.23v4.6M480.07 190.74h4.6M482.37 188.44v4.6M410.47 171.43h4.6M412.77 169.13v4.6M478.28 186.89h4.6M480.58 184.59v4.6M452.24 167.09h4.6M454.54 164.79v4.6M420.1 200.05h4.6M422.4 197.75v4.6M406.47 214h4.6M408.77 211.7v4.6M406.47 199.85h4.6M408.77 197.55v4.6M458.13 183.52h4.6M460.43 181.22v4.6M413.57 186.66h4.6M415.87 184.36v4.6M437.51 198.35h4.6M439.81 196.05v4.6M438.47 189.48h4.6M440.77 187.18v4.6M413.57 205.69h4.6M415.87 203.39v4.6M433.51 181.37h4.6M435.81 179.07v4.6M459.62 181.97h4.6M461.92 179.67v4.6M465.23 194h4.6M467.53 191.7v4.6M452.3 180.18h4.6M454.6 177.88v4.6M413.57 202.08h4.6M415.87 199.78v4.6M452.51 181.42h4.6M454.81 179.12v4.6M442.11 185.67h4.6M444.41 183.37v4.6M406.3 158.3h4.6M408.6 156v4.6M452.11 190.34h4.6M454.41 188.04v4.6M437.51 198.18h4.6M439.81 195.88v4.6M406.47 214.72h4.6M408.77 212.42v4.6M424.52 188.54h4.6M426.82 186.24v4.6M446.79 173.75h4.6M449.09 171.45v4.6M410.47 189.25h4.6M412.77 186.95v4.6M406.47 188.3h4.6M408.77 186v4.6M431.37 200.69h4.6M433.67 198.39v4.6M413.57 188.98h4.6M415.87 186.68v4.6M461.11 170.74h4.6M463.41 168.44v4.6M438.92 165.65h4.6M441.22 163.35v4.6M413.57 186h4.6M415.87 183.7v4.6M410.47 180.88h4.6M412.77 178.58v4.6M431.37 181.36h4.6M433.67 179.06v4.6M426.85 199.04h4.6M429.15 196.74v4.6M424.52 175.05h4.6M426.82 172.75v4.6M410.47 212.44h4.6M412.77 210.14v4.6M451.99 192.86h4.6M454.29 190.56v4.6M459.08 187.46h4.6M461.38 185.16v4.6M406.47 179.25h4.6M408.77 176.95v4.6M420.1 193.01h4.6M422.4 190.71v4.6M456 188.14h4.6M458.3 185.84v4.6M453.68 188.59h4.6M455.98 186.29v4.6M449.13 185.51h4.6M451.43 183.21v4.6M406.3 221h4.6M408.6 218.7v4.6M420.1 191.05h4.6M422.4 188.75v4.6M439.36 191.57h4.6M441.66 189.27v4.6M413.57 195.53h4.6M415.87 193.23v4.6M410.47 195.09h4.6M412.77 192.79v4.6" stroke="#9acd32" stroke-width="1.35" fill="none"/><path d="M505 191.5h4.6M507.3 189.2v4.6M480.1 191.5h4.6M482.4 189.2v4.6" stroke="#556b2f" stroke-width="1.35" fill="none"/><path d="M413.2 154.6h4.6M415.5 152.3v4.6M421.5 156.7h4.6M423.8 154.4v4.6M406.3 164.2h4.6M408.6 161.9v4.6M423.1 162.6h4.6M425.4 160.3v4.6M424.7 165h4.6M427 162.7v4.6M452 159.9h4.6M454.3 157.6v4.6M431.1 167.4h4.6M433.4 165.1v4.6M441.6 169.5h4.6M443.9 167.2v4.6M444 169.8h4.6M446.3 167.5v4.6M447.2 167.4h4.6M449.5 165.1v4.6M454.4 173.8h4.6M456.7 171.5v4.6M410.3 169h4.6M412.6 166.7v4.6M410.3 173.8h4.6M412.6 171.5v4.6M415.9 173h4.6M418.2 170.7v4.6M413.5 177.8h4.6M415.8 175.5v4.6M424.4 172.7h4.6M426.7 170.4v4.6M429.5 175.4h4.6M431.8 173.1v4.6M428.7 178.6h4.6M431 176.3v4.6M434.4 173.4h4.6M436.7 171.1v4.6M456.8 187.1h4.6M459.1 184.8v4.6M425.5 190.3h4.6M427.8 188v4.6M406.3 197.9h4.6M408.6 195.6v4.6M494.1 164.5h4.6M496.4 162.2v4.6M501.8 173h4.6M504.1 170.7v4.6M485.7 181.9h4.6M488 179.6v4.6" stroke="#ff4500" stroke-width="1.35" fill="none"/><path d="M447.2 164.2h4.6M449.5 161.9v4.6M453.6 168.2h4.6M455.9 165.9v4.6M448.8 172.7h4.6M451.1 170.4v4.6M449.6 176.6h4.6M451.9 174.3v4.6M410.3 176.2h4.6M412.6 173.9v4.6M437.2 173.4h4.6M439.5 171.1v4.6M479.8 175.9h4.6M482.1 173.6v4.6M463.3 173.4h4.6M465.6 171.1v4.6" stroke="#922233" stroke-width="1.35" fill="none"/><path d="M413.2 239.5h4.6M415.5 237.2v4.6" stroke="#b8283c" stroke-width="1.35" fill="none"/></g><rect x="403.8" y="149.5" width="108.7" height="113.5" stroke="#8a8a8a" stroke-width="1.15" fill="none"/><line x1="408.77" y1="263" x2="408.77" y2="264.9" stroke="#444" stroke-width="0.6"/><line x1="412.77" y1="263" x2="412.77" y2="264.9" stroke="#444" stroke-width="0.6"/><line x1="415.87" y1="263" x2="415.87" y2="264.9" stroke="#444" stroke-width="0.6"/><line x1="418.4" y1="263" x2="418.4" y2="264.9" stroke="#444" stroke-width="0.6"/><line x1="420.54" y1="263" x2="420.54" y2="264.9" stroke="#444" stroke-width="0.6"/><line x1="422.4" y1="263" x2="422.4" y2="264.9" stroke="#444" stroke-width="0.6"/><line x1="424.04" y1="263" x2="424.04" y2="264.9" stroke="#444" stroke-width="0.6"/><line x1="425.5" y1="263" x2="425.5" y2="266.2" stroke="#444" stroke-width="0.8"/><line x1="435.13" y1="263" x2="435.13" y2="264.9" stroke="#444" stroke-width="0.6"/><line x1="440.77" y1="263" x2="440.77" y2="264.9" stroke="#444" stroke-width="0.6"/><line x1="444.77" y1="263" x2="444.77" y2="264.9" stroke="#444" stroke-width="0.6"/><line x1="447.87" y1="263" x2="447.87" y2="264.9" stroke="#444" stroke-width="0.6"/><line x1="450.4" y1="263" x2="450.4" y2="264.9" stroke="#444" stroke-width="0.6"/><line x1="452.54" y1="263" x2="452.54" y2="264.9" stroke="#444" stroke-width="0.6"/><line x1="454.4" y1="263" x2="454.4" y2="264.9" stroke="#444" stroke-width="0.6"/><line x1="456.04" y1="263" x2="456.04" y2="264.9" stroke="#444" stroke-width="0.6"/><line x1="457.5" y1="263" x2="457.5" y2="266.2" stroke="#444" stroke-width="0.8"/><line x1="467.13" y1="263" x2="467.13" y2="264.9" stroke="#444" stroke-width="0.6"/><line x1="472.77" y1="263" x2="472.77" y2="264.9" stroke="#444" stroke-width="0.6"/><line x1="476.77" y1="263" x2="476.77" y2="264.9" stroke="#444" stroke-width="0.6"/><line x1="479.87" y1="263" x2="479.87" y2="264.9" stroke="#444" stroke-width="0.6"/><line x1="482.4" y1="263" x2="482.4" y2="264.9" stroke="#444" stroke-width="0.6"/><line x1="484.54" y1="263" x2="484.54" y2="264.9" stroke="#444" stroke-width="0.6"/><line x1="486.4" y1="263" x2="486.4" y2="264.9" stroke="#444" stroke-width="0.6"/><line x1="488.04" y1="263" x2="488.04" y2="264.9" stroke="#444" stroke-width="0.6"/><line x1="489.5" y1="263" x2="489.5" y2="266.2" stroke="#444" stroke-width="0.8"/><line x1="499.13" y1="263" x2="499.13" y2="264.9" stroke="#444" stroke-width="0.6"/><line x1="504.77" y1="263" x2="504.77" y2="264.9" stroke="#444" stroke-width="0.6"/><line x1="508.77" y1="263" x2="508.77" y2="264.9" stroke="#444" stroke-width="0.6"/><line x1="511.87" y1="263" x2="511.87" y2="264.9" stroke="#444" stroke-width="0.6"/><line x1="401.9" y1="256.37" x2="403.8" y2="256.37" stroke="#444" stroke-width="0.6"/><line x1="401.9" y1="251.09" x2="403.8" y2="251.09" stroke="#444" stroke-width="0.6"/><line x1="401.9" y1="247.34" x2="403.8" y2="247.34" stroke="#444" stroke-width="0.6"/><line x1="401.9" y1="244.43" x2="403.8" y2="244.43" stroke="#444" stroke-width="0.6"/><line x1="401.9" y1="242.06" x2="403.8" y2="242.06" stroke="#444" stroke-width="0.6"/><line x1="401.9" y1="240.05" x2="403.8" y2="240.05" stroke="#444" stroke-width="0.6"/><line x1="401.9" y1="238.31" x2="403.8" y2="238.31" stroke="#444" stroke-width="0.6"/><line x1="401.9" y1="236.77" x2="403.8" y2="236.77" stroke="#444" stroke-width="0.6"/><line x1="400.6" y1="235.4" x2="403.8" y2="235.4" stroke="#444" stroke-width="0.8"/><line x1="401.9" y1="226.37" x2="403.8" y2="226.37" stroke="#444" stroke-width="0.6"/><line x1="401.9" y1="221.09" x2="403.8" y2="221.09" stroke="#444" stroke-width="0.6"/><line x1="401.9" y1="217.34" x2="403.8" y2="217.34" stroke="#444" stroke-width="0.6"/><line x1="401.9" y1="214.43" x2="403.8" y2="214.43" stroke="#444" stroke-width="0.6"/><line x1="401.9" y1="212.06" x2="403.8" y2="212.06" stroke="#444" stroke-width="0.6"/><line x1="401.9" y1="210.05" x2="403.8" y2="210.05" stroke="#444" stroke-width="0.6"/><line x1="401.9" y1="208.31" x2="403.8" y2="208.31" stroke="#444" stroke-width="0.6"/><line x1="401.9" y1="206.77" x2="403.8" y2="206.77" stroke="#444" stroke-width="0.6"/><line x1="400.6" y1="205.4" x2="403.8" y2="205.4" stroke="#444" stroke-width="0.8"/><line x1="401.9" y1="196.37" x2="403.8" y2="196.37" stroke="#444" stroke-width="0.6"/><line x1="401.9" y1="191.09" x2="403.8" y2="191.09" stroke="#444" stroke-width="0.6"/><line x1="401.9" y1="187.34" x2="403.8" y2="187.34" stroke="#444" stroke-width="0.6"/><line x1="401.9" y1="184.43" x2="403.8" y2="184.43" stroke="#444" stroke-width="0.6"/><line x1="401.9" y1="182.06" x2="403.8" y2="182.06" stroke="#444" stroke-width="0.6"/><line x1="401.9" y1="180.05" x2="403.8" y2="180.05" stroke="#444" stroke-width="0.6"/><line x1="401.9" y1="178.31" x2="403.8" y2="178.31" stroke="#444" stroke-width="0.6"/><line x1="401.9" y1="176.77" x2="403.8" y2="176.77" stroke="#444" stroke-width="0.6"/><line x1="400.6" y1="175.4" x2="403.8" y2="175.4" stroke="#444" stroke-width="0.8"/><line x1="401.9" y1="166.37" x2="403.8" y2="166.37" stroke="#444" stroke-width="0.6"/><line x1="401.9" y1="161.09" x2="403.8" y2="161.09" stroke="#444" stroke-width="0.6"/><line x1="401.9" y1="157.34" x2="403.8" y2="157.34" stroke="#444" stroke-width="0.6"/><line x1="401.9" y1="154.43" x2="403.8" y2="154.43" stroke="#444" stroke-width="0.6"/><line x1="401.9" y1="152.06" x2="403.8" y2="152.06" stroke="#444" stroke-width="0.6"/><line x1="401.9" y1="150.05" x2="403.8" y2="150.05" stroke="#444" stroke-width="0.6"/><text x="381.24" y="178.7" font-family='"Liberation Sans", sans-serif' font-size="8.6" font-weight="normal" fill="#111" stroke="#111" textLength="9.37" lengthAdjust="spacingAndGlyphs">10</text><text x="390.45" y="175.2" font-family='"Liberation Sans", sans-serif' font-size="6.02" font-weight="normal" fill="#111" stroke="#111" textLength="7.69" lengthAdjust="spacingAndGlyphs">−2</text><text x="381.2" y="208.7" font-family='"Liberation Sans", sans-serif' font-size="8.6" font-weight="normal" fill="#111" stroke="#111" textLength="9.37" lengthAdjust="spacingAndGlyphs">10</text><text x="390.41" y="205.2" font-family='"Liberation Sans", sans-serif' font-size="6.02" font-weight="normal" fill="#111" stroke="#111" textLength="7.69" lengthAdjust="spacingAndGlyphs">−3</text><text x="381.1" y="238.7" font-family='"Liberation Sans", sans-serif' font-size="8.6" font-weight="normal" fill="#111" stroke="#111" textLength="9.37" lengthAdjust="spacingAndGlyphs">10</text><text x="390.31" y="235.2" font-family='"Liberation Sans", sans-serif' font-size="6.02" font-weight="normal" fill="#111" stroke="#111" textLength="7.69" lengthAdjust="spacingAndGlyphs">−4</text><text x="418.71" y="273.8" font-family='"Liberation Sans", sans-serif' font-size="8.6" font-weight="normal" fill="#111" stroke="#111" textLength="10.04" lengthAdjust="spacingAndGlyphs">10</text><text x="428.56" y="270.7" font-family='"Liberation Sans", sans-serif' font-size="5.33" font-weight="normal" fill="#111" stroke="#111" textLength="2.45" lengthAdjust="spacingAndGlyphs">1</text><text x="450.71" y="273.8" font-family='"Liberation Sans", sans-serif' font-size="8.6" font-weight="normal" fill="#111" stroke="#111" textLength="10.04" lengthAdjust="spacingAndGlyphs">10</text><text x="460.64" y="270.7" font-family='"Liberation Sans", sans-serif' font-size="5.33" font-weight="normal" fill="#111" stroke="#111" textLength="2.93" lengthAdjust="spacingAndGlyphs">2</text><text x="482.71" y="273.8" font-family='"Liberation Sans", sans-serif' font-size="8.6" font-weight="normal" fill="#111" stroke="#111" textLength="10.04" lengthAdjust="spacingAndGlyphs">10</text><text x="492.71" y="270.7" font-family='"Liberation Sans", sans-serif' font-size="5.33" font-weight="normal" fill="#111" stroke="#111" textLength="2.82" lengthAdjust="spacingAndGlyphs">3</text><clipPath id="cp3"><rect x="563.5" y="149.5" width="109.6" height="113.1"/></clipPath><g clip-path="url(#cp3)"><path d="M604.31 223.22h4.6M606.61 220.92v4.6M580.4 190.01h4.6M582.7 187.71v4.6M604.4 218.8h4.6M606.7 216.5v4.6M624.9 202.2h4.6M627.2 199.9v4.6M601.68 225.59h4.6M603.98 223.29v4.6M614.55 225.05h4.6M616.85 222.75v4.6M573.87 220.14h4.6M576.17 217.84v4.6M570.77 233.18h4.6M573.07 230.88v4.6M576.4 204.1h4.6M578.7 201.8v4.6M588.18 210.22h4.6M590.48 207.92v4.6M634.2 200h4.6M636.5 197.7v4.6M603.75 239.3h4.6M606.05 237v4.6M570.77 216.05h4.6M573.07 213.75v4.6M612.85 207.02h4.6M615.15 204.72v4.6M611.46 222.26h4.6M613.76 219.96v4.6M603.12 201.73h4.6M605.42 199.43v4.6M639.01 213.01h4.6M641.31 210.71v4.6M610.96 222.27h4.6M613.26 219.97v4.6M614.53 222.67h4.6M616.83 220.37v4.6M570.77 201.88h4.6M573.07 199.58v4.6M580.4 237.05h4.6M582.7 234.75v4.6M640.44 224h4.6M642.74 221.7v4.6M570.77 206.8h4.6M573.07 204.5v4.6M597.3 204.48h4.6M599.6 202.18v4.6M607.02 220.91h4.6M609.32 218.61v4.6M598.3 225.36h4.6M600.6 223.06v4.6M594.2 253.1h4.6M596.5 250.8v4.6M605.48 201.03h4.6M607.78 198.73v4.6M629.7 207.5h4.6M632 205.2v4.6M608.58 209.28h4.6M610.88 206.98v4.6M573.87 229.73h4.6M576.17 227.43v4.6M586.03 208.06h4.6M588.33 205.76v4.6M566.1 190.3h4.6M568.4 188v4.6M608.42 230.33h4.6M610.72 228.03v4.6M566.1 158.6h4.6M568.4 156.3v4.6M598.77 229.85h4.6M601.07 227.55v4.6M578.54 199.99h4.6M580.84 197.69v4.6M618.5 209.25h4.6M620.8 206.95v4.6M621.7 202.7h4.6M624 200.4v4.6M605.47 231.25h4.6M607.77 228.95v4.6M566.77 211.41h4.6M569.07 209.11v4.6M591.67 222.65h4.6M593.97 220.35v4.6M608.23 224.84h4.6M610.53 222.54v4.6M570.77 227.26h4.6M573.07 224.96v4.6M592.42 220.58h4.6M594.72 218.28v4.6M606.39 218.25h4.6M608.69 215.95v4.6M583.5 226.51h4.6M585.8 224.21v4.6M603.91 225.24h4.6M606.21 222.94v4.6M609.37 229.14h4.6M611.67 226.84v4.6M621.95 221.86h4.6M624.25 219.56v4.6M623.45 208.53h4.6M625.75 206.23v4.6M580.4 232.21h4.6M582.7 229.91v4.6M595.67 229.38h4.6M597.97 227.08v4.6M570.77 237.91h4.6M573.07 235.61v4.6M587.15 219.8h4.6M589.45 217.5v4.6M609.97 216.11h4.6M612.27 213.81v4.6M591.67 232.6h4.6M593.97 230.3v4.6M589.13 207.46h4.6M591.43 205.16v4.6M584.82 214.24h4.6M587.12 211.94v4.6M582.04 220.38h4.6M584.34 218.08v4.6M625.97 222.79h4.6M628.27 220.49v4.6M622.75 215.28h4.6M625.05 212.98v4.6M599.22 230.07h4.6M601.52 227.77v4.6M598.3 241.47h4.6M600.6 239.17v4.6M608.41 228.35h4.6M610.71 226.05v4.6M590.87 223.8h4.6M593.17 221.5v4.6M586.03 201.19h4.6M588.33 198.89v4.6M632.52 229.25h4.6M634.82 226.95v4.6M600.51 221.2h4.6M602.81 218.9v4.6M612.27 196.61h4.6M614.57 194.31v4.6M622.06 224.99h4.6M624.36 222.69v4.6M576.4 234.37h4.6M578.7 232.07v4.6M625.7 220.21h4.6M628 217.91v4.6M595.67 207.94h4.6M597.97 205.64v4.6M616.48 219.75h4.6M618.78 217.45v4.6M632.91 219.24h4.6M635.21 216.94v4.6M628.72 207.1h4.6M631.02 204.8v4.6M604.54 196.19h4.6M606.84 193.89v4.6M604.64 207.29h4.6M606.94 204.99v4.6M622.27 232.92h4.6M624.57 230.62v4.6M570.77 219.95h4.6M573.07 217.65v4.6M621.68 209.05h4.6M623.98 206.75v4.6M582.04 220.83h4.6M584.34 218.53v4.6M590.03 202.39h4.6M592.33 200.09v4.6M610.26 237.43h4.6M612.56 235.13v4.6M599.66 211.35h4.6M601.96 209.05v4.6M566.77 239.48h4.6M569.07 237.18v4.6M582.04 204.95h4.6M584.34 202.65v4.6M628.21 228.95h4.6M630.51 226.65v4.6M566.77 235.21h4.6M569.07 232.91v4.6M593.81 197.78h4.6M596.11 195.48v4.6M631.39 226.32h4.6M633.69 224.02v4.6M605.46 203.84h4.6M607.76 201.54v4.6M583.5 244.94h4.6M585.8 242.64v4.6M570.77 242.53h4.6M573.07 240.23v4.6M622.8 220.03h4.6M625.1 217.73v4.6M588.18 228.58h4.6M590.48 226.28v4.6M573.87 213.85h4.6M576.17 211.55v4.6M573.87 206.35h4.6M576.17 204.05v4.6M599 196.3h4.6M601.3 194v4.6M576.4 210.18h4.6M578.7 207.88v4.6M609.11 221.89h4.6M611.41 219.59v4.6M578.54 201.19h4.6M580.84 198.89v4.6M570.77 205.86h4.6M573.07 203.56v4.6M573.87 246.31h4.6M576.17 244.01v4.6M576.4 212.8h4.6M578.7 210.5v4.6M570.77 213.94h4.6M573.07 211.64v4.6M644.97 212.15h4.6M647.27 209.85v4.6M614.99 206.32h4.6M617.29 204.02v4.6M566.77 213.8h4.6M569.07 211.5v4.6M638.17 223.68h4.6M640.47 221.38v4.6M616.73 215.74h4.6M619.03 213.44v4.6M628.54 225.74h4.6M630.84 223.44v4.6M636.45 216.77h4.6M638.75 214.47v4.6M629.21 211.97h4.6M631.51 209.67v4.6M617.51 220.79h4.6M619.81 218.49v4.6M646.43 214.99h4.6M648.73 212.69v4.6M576.4 236.77h4.6M578.7 234.47v4.6M582.04 205.83h4.6M584.34 203.53v4.6M648.9 217.4h4.6M651.2 215.1v4.6M573.87 215.22h4.6M576.17 212.92v4.6M580.4 208.21h4.6M582.7 205.91v4.6M644.1 225.4h4.6M646.4 223.1v4.6M566.77 221.66h4.6M569.07 219.36v4.6M611.58 204.49h4.6M613.88 202.19v4.6M635.19 211.83h4.6M637.49 209.53v4.6M590.03 197.86h4.6M592.33 195.56v4.6M586.03 234.37h4.6M588.33 232.07v4.6M607 224.34h4.6M609.3 222.04v4.6M570.77 192.5h4.6M573.07 190.2v4.6M584.82 210.34h4.6M587.12 208.04v4.6M578.54 226.37h4.6M580.84 224.07v4.6M591.67 204.64h4.6M593.97 202.34v4.6M603 195.5h4.6M605.3 193.2v4.6M593.13 209.25h4.6M595.43 206.95v4.6M659.4 205.9h4.6M661.7 203.6v4.6M602.41 199.88h4.6M604.71 197.58v4.6M566.77 216.63h4.6M569.07 214.33v4.6M597.3 232.56h4.6M599.6 230.26v4.6M570.77 192.82h4.6M573.07 190.52v4.6M617.01 210.07h4.6M619.31 207.77v4.6M566.77 241.85h4.6M569.07 239.55v4.6M582.04 217.85h4.6M584.34 215.55v4.6M634.58 228.2h4.6M636.88 225.9v4.6M590.1 191h4.6M592.4 188.7v4.6M598.3 226.67h4.6M600.6 224.37v4.6M570.77 203.57h4.6M573.07 201.27v4.6M580.5 190.3h4.6M582.8 188v4.6M608.44 220.31h4.6M610.74 218.01v4.6M590.03 219.27h4.6M592.33 216.97v4.6M643.71 206.84h4.6M646.01 204.54v4.6M603.88 239.17h4.6M606.18 236.87v4.6M610.66 197.73h4.6M612.96 195.43v4.6M575.7 251.8h4.6M578 249.5v4.6M592.42 206.31h4.6M594.72 204.01v4.6M590.87 229.36h4.6M593.17 227.06v4.6M623.65 205.23h4.6M625.95 202.93v4.6M593.81 212.11h4.6M596.11 209.81v4.6M662.6 225.4h4.6M664.9 223.1v4.6M608.43 195.75h4.6M610.73 193.45v4.6M653.01 222.08h4.6M655.31 219.78v4.6M594.2 185.9h4.6M596.5 183.6v4.6M570.77 209.68h4.6M573.07 207.38v4.6M621.17 224.33h4.6M623.47 222.03v4.6M573.87 214.52h4.6M576.17 212.22v4.6M573.87 190.97h4.6M576.17 188.67v4.6M623.84 204.43h4.6M626.14 202.13v4.6M594.46 219.06h4.6M596.76 216.76v4.6M591.67 192.65h4.6M593.97 190.35v4.6M578.54 191.31h4.6M580.84 189.01v4.6M573.87 224.29h4.6M576.17 221.99v4.6M596.78 227.74h4.6M599.08 225.44v4.6M609.86 230.72h4.6M612.16 228.42v4.6M596.78 202.27h4.6M599.08 199.97v4.6M593.81 218.54h4.6M596.11 216.24v4.6M598.77 231.77h4.6M601.07 229.47v4.6M583.5 208.17h4.6M585.8 205.87v4.6M570.77 210.62h4.6M573.07 208.32v4.6M615.3 245.5h4.6M617.6 243.2v4.6M603.49 208.91h4.6M605.79 206.61v4.6M582.04 219.18h4.6M584.34 216.88v4.6M578.54 198.26h4.6M580.84 195.96v4.6M566.77 237.89h4.6M569.07 235.59v4.6M603.75 217.09h4.6M606.05 214.79v4.6M573.8 170.2h4.6M576.1 167.9v4.6M573.87 202.76h4.6M576.17 200.46v4.6M586.03 240.94h4.6M588.33 238.64v4.6M653.8 219h4.6M656.1 216.7v4.6M602.41 218.39h4.6M604.71 216.09v4.6M578.54 238.6h4.6M580.84 236.3v4.6M593.13 215.22h4.6M595.43 212.92v4.6M586.03 227.09h4.6M588.33 224.79v4.6M618.36 211.98h4.6M620.66 209.68v4.6M591.7 182.7h4.6M594 180.4v4.6M573.87 219.34h4.6M576.17 217.04v4.6M576.4 227.01h4.6M578.7 224.71v4.6M594.46 199.71h4.6M596.76 197.41v4.6M566.77 227.64h4.6M569.07 225.34v4.6M576.4 236.09h4.6M578.7 233.79v4.6M573.87 207.96h4.6M576.17 205.66v4.6M570.77 209.68h4.6M573.07 207.38v4.6M584.82 236.31h4.6M587.12 234.01v4.6M645.58 213.39h4.6M647.88 211.09v4.6M648.85 212.04h4.6M651.15 209.74v4.6M616.9 234.3h4.6M619.2 232v4.6M619.84 227.86h4.6M622.14 225.56v4.6M612.43 218.47h4.6M614.73 216.17v4.6M592.42 236.83h4.6M594.72 234.53v4.6M586.03 206.64h4.6M588.33 204.34v4.6M596.23 232.36h4.6M598.53 230.06v4.6M576.4 211.62h4.6M578.7 209.32v4.6M633.25 217h4.6M635.55 214.7v4.6M655.26 219.5h4.6M657.56 217.2v4.6M621.29 210.93h4.6M623.59 208.63v4.6M566.77 238.08h4.6M569.07 235.78v4.6M613.27 226.59h4.6M615.57 224.29v4.6M598.77 213.47h4.6M601.07 211.17v4.6M587.15 232.76h4.6M589.45 230.46v4.6M601.3 218.07h4.6M603.6 215.77v4.6M582.04 212.82h4.6M584.34 210.52v4.6M593.81 223.15h4.6M596.11 220.85v4.6M610.52 201.63h4.6M612.82 199.33v4.6M582.9 257.1h4.6M585.2 254.8v4.6M627.12 223.57h4.6M629.42 221.27v4.6M608.43 208.83h4.6M610.73 206.53v4.6M646.21 208.43h4.6M648.51 206.13v4.6M625.7 201.9h4.6M628 199.6v4.6M582.04 210.62h4.6M584.34 208.32v4.6M570.77 228.31h4.6M573.07 226.01v4.6M598.3 227.15h4.6M600.6 224.85v4.6M627.08 219.71h4.6M629.38 217.41v4.6M592.42 228.54h4.6M594.72 226.24v4.6M619.79 226.8h4.6M622.09 224.5v4.6M596.78 204.99h4.6M599.08 202.69v4.6M570.77 220.2h4.6M573.07 217.9v4.6M566.77 220.48h4.6M569.07 218.18v4.6M608.77 220.77h4.6M611.07 218.47v4.6M583.5 205.87h4.6M585.8 203.57v4.6M576.4 219.07h4.6M578.7 216.77v4.6M570.77 200.12h4.6M573.07 197.82v4.6M583.5 227.22h4.6M585.8 224.92v4.6M647.5 215.51h4.6M649.8 213.21v4.6M596.78 224.99h4.6M599.08 222.69v4.6M601.3 209.82h4.6M603.6 207.52v4.6M591.67 202.65h4.6M593.97 200.35v4.6M566.77 209.21h4.6M569.07 206.91v4.6M615.15 205.89h4.6M617.45 203.59v4.6M566.77 223.68h4.6M569.07 221.38v4.6M641.71 224.91h4.6M644.01 222.61v4.6M637.38 221.41h4.6M639.68 219.11v4.6M578.54 228.99h4.6M580.84 226.69v4.6M638.28 211.12h4.6M640.58 208.82v4.6M570.77 223.21h4.6M573.07 220.91v4.6M592.42 217.54h4.6M594.72 215.24v4.6M601.68 205.85h4.6M603.98 203.55v4.6M580.4 210.11h4.6M582.7 207.81v4.6M632.05 208.55h4.6M634.35 206.25v4.6M573.87 204.62h4.6M576.17 202.32v4.6M566.1 161.5h4.6M568.4 159.2v4.6M590.03 200.73h4.6M592.33 198.43v4.6M578.54 238.07h4.6M580.84 235.77v4.6M644.18 215.17h4.6M646.48 212.87v4.6M621.24 222.31h4.6M623.54 220.01v4.6M570.77 203.54h4.6M573.07 201.24v4.6M634.5 199.5h4.6M636.8 197.2v4.6M604.73 215.33h4.6M607.03 213.03v4.6M611.53 203.43h4.6M613.83 201.13v4.6M582.04 208.16h4.6M584.34 205.86v4.6M566.77 210.9h4.6M569.07 208.6v4.6M566.77 224.04h4.6M569.07 221.74v4.6M589.13 211.38h4.6M591.43 209.08v4.6M600.51 199.28h4.6M602.81 196.98v4.6M601.68 233.75h4.6M603.98 231.45v4.6M613.13 220.02h4.6M615.43 217.72v4.6M578.54 207.15h4.6M580.84 204.85v4.6M590.87 236.14h4.6M593.17 233.84v4.6M602.41 220.97h4.6M604.71 218.67v4.6M633.75 225.85h4.6M636.05 223.55v4.6M589.13 195.79h4.6M591.43 193.49v4.6M589.13 217.58h4.6M591.43 215.28v4.6M626.1 215.95h4.6M628.4 213.65v4.6M576.4 236.28h4.6M578.7 233.98v4.6M583.5 212.48h4.6M585.8 210.18v4.6M643.95 207.55h4.6M646.25 205.25v4.6M620.61 203.33h4.6M622.91 201.03v4.6M583.5 201.72h4.6M585.8 199.42v4.6M583.5 219.87h4.6M585.8 217.57v4.6M637.32 213.49h4.6M639.62 211.19v4.6M650.6 230.3h4.6M652.9 228v4.6M623.63 220.94h4.6M625.93 218.64v4.6M576.4 239.46h4.6M578.7 237.16v4.6M604.86 213.85h4.6M607.16 211.55v4.6M566.77 198.56h4.6M569.07 196.26v4.6M566.77 209.48h4.6M569.07 207.18v4.6M582.04 203.43h4.6M584.34 201.13v4.6M582.04 223.29h4.6M584.34 220.99v4.6M566.77 207.18h4.6M569.07 204.88v4.6M615.73 211.34h4.6M618.03 209.04v4.6M618.36 222.57h4.6M620.66 220.27v4.6M573.87 236.8h4.6M576.17 234.5v4.6M584.82 208.2h4.6M587.12 205.9v4.6M578.54 224.01h4.6M580.84 221.71v4.6M592.42 198.84h4.6M594.72 196.54v4.6M612.53 203.64h4.6M614.83 201.34v4.6M570.77 199.99h4.6M573.07 197.69v4.6M578.54 193.44h4.6M580.84 191.14v4.6M580.4 230.86h4.6M582.7 228.56v4.6M619.3 245.5h4.6M621.6 243.2v4.6M582.04 237.43h4.6M584.34 235.13v4.6M566.77 205.01h4.6M569.07 202.71v4.6M570.77 225.61h4.6M573.07 223.31v4.6M595.67 218.11h4.6M597.97 215.81v4.6M595.67 211.37h4.6M597.97 209.07v4.6M605.8 228.98h4.6M608.1 226.68v4.6M573.87 203.37h4.6M576.17 201.07v4.6M617.8 206.93h4.6M620.1 204.63v4.6M573.87 233.5h4.6M576.17 231.2v4.6M613.64 211.85h4.6M615.94 209.55v4.6M589.13 238.6h4.6M591.43 236.3v4.6M610.57 219.39h4.6M612.87 217.09v4.6M647.21 212.53h4.6M649.51 210.23v4.6M573.87 212.59h4.6M576.17 210.29v4.6M582.04 208.21h4.6M584.34 205.91v4.6M628.09 213.92h4.6M630.39 211.62v4.6M566.77 193.42h4.6M569.07 191.12v4.6M634.02 214.65h4.6M636.32 212.35v4.6M576.4 213.69h4.6M578.7 211.39v4.6M615.18 221.66h4.6M617.48 219.36v4.6M573.87 215.51h4.6M576.17 213.21v4.6M578.54 198.62h4.6M580.84 196.32v4.6M599.66 225.35h4.6M601.96 223.05v4.6M570.77 233.27h4.6M573.07 230.97v4.6M582.04 227.46h4.6M584.34 225.16v4.6M619.37 223.8h4.6M621.67 221.5v4.6M566.77 212.02h4.6M569.07 209.72v4.6M633.4 205.92h4.6M635.7 203.62v4.6M612.85 231.56h4.6M615.15 229.26v4.6M594.46 234.27h4.6M596.76 231.97v4.6M647.36 213.73h4.6M649.66 211.43v4.6M578.54 243.18h4.6M580.84 240.88v4.6M592.42 212.52h4.6M594.72 210.22v4.6M616.22 230.76h4.6M618.52 228.46v4.6M612.81 212.17h4.6M615.11 209.87v4.6M590.03 207.86h4.6M592.33 205.56v4.6M633.93 212.46h4.6M636.23 210.16v4.6M570.1 255h4.6M572.4 252.7v4.6M576.4 239.51h4.6M578.7 237.21v4.6M632.67 216.23h4.6M634.97 213.93v4.6M633.91 220.28h4.6M636.21 217.98v4.6M566.77 247.91h4.6M569.07 245.61v4.6M590.87 199.06h4.6M593.17 196.76v4.6M590.87 224.29h4.6M593.17 221.99v4.6M566.77 225.77h4.6M569.07 223.47v4.6M608.62 199.15h4.6M610.92 196.85v4.6M587.15 209.96h4.6M589.45 207.66v4.6M587.15 235.98h4.6M589.45 233.68v4.6M566.77 219.22h4.6M569.07 216.92v4.6M622.98 215.17h4.6M625.28 212.87v4.6M604.2 213.31h4.6M606.5 211.01v4.6M582.04 204.83h4.6M584.34 202.53v4.6M603.96 218.7h4.6M606.26 216.4v4.6M566.77 218.76h4.6M569.07 216.46v4.6M600.09 206.76h4.6M602.39 204.46v4.6M566.77 202.51h4.6M569.07 200.21v4.6M590.03 213.12h4.6M592.33 210.82v4.6M593.13 213.29h4.6M595.43 210.99v4.6M590.03 221.38h4.6M592.33 219.08v4.6" stroke="#9acd32" stroke-width="1.35" fill="none"/><path d="M651.4 224.3h4.6M653.7 222v4.6M665.8 228.3h4.6M668.1 226v4.6" stroke="#556b2f" stroke-width="1.35" fill="none"/><path d="M566.1 154.6h4.6M568.4 152.3v4.6M573.3 176.2h4.6M575.6 173.9v4.6M575.7 174.3h4.6M578 172v4.6M585.3 187.1h4.6M587.6 184.8v4.6M591.7 187.1h4.6M594 184.8v4.6M610.2 190.3h4.6M612.5 188v4.6M582.9 192.3h4.6M585.2 190v4.6M607 196.3h4.6M609.3 194v4.6M614.2 195.5h4.6M616.5 193.2v4.6M588.5 202.7h4.6M590.8 200.4v4.6M654.6 183.1h4.6M656.9 180.8v4.6M594.6 207.9h4.6M596.9 205.6v4.6M616.6 211.1h4.6M618.9 208.8v4.6M605.4 227.4h4.6M607.7 225.1v4.6M645.7 217.1h4.6M648 214.8v4.6M661.8 214.2h4.6M664.1 211.9v4.6" stroke="#ff4500" stroke-width="1.35" fill="none"/><path d="M607 183h4.6M609.3 180.7v4.6M608.6 194.2h4.6M610.9 191.9v4.6M613.4 200.3h4.6M615.7 198v4.6M623.3 204.3h4.6M625.6 202v4.6M640.1 209.4h4.6M642.4 207.1v4.6M609.7 234.3h4.6M612 232v4.6" stroke="#922233" stroke-width="1.35" fill="none"/></g><rect x="563.5" y="149.5" width="109.6" height="113.1" stroke="#8a8a8a" stroke-width="1.15" fill="none"/><line x1="569.07" y1="262.6" x2="569.07" y2="264.5" stroke="#444" stroke-width="0.6"/><line x1="573.07" y1="262.6" x2="573.07" y2="264.5" stroke="#444" stroke-width="0.6"/><line x1="576.17" y1="262.6" x2="576.17" y2="264.5" stroke="#444" stroke-width="0.6"/><line x1="578.7" y1="262.6" x2="578.7" y2="264.5" stroke="#444" stroke-width="0.6"/><line x1="580.84" y1="262.6" x2="580.84" y2="264.5" stroke="#444" stroke-width="0.6"/><line x1="582.7" y1="262.6" x2="582.7" y2="264.5" stroke="#444" stroke-width="0.6"/><line x1="584.34" y1="262.6" x2="584.34" y2="264.5" stroke="#444" stroke-width="0.6"/><line x1="585.8" y1="262.6" x2="585.8" y2="265.8" stroke="#444" stroke-width="0.8"/><line x1="595.43" y1="262.6" x2="595.43" y2="264.5" stroke="#444" stroke-width="0.6"/><line x1="601.07" y1="262.6" x2="601.07" y2="264.5" stroke="#444" stroke-width="0.6"/><line x1="605.07" y1="262.6" x2="605.07" y2="264.5" stroke="#444" stroke-width="0.6"/><line x1="608.17" y1="262.6" x2="608.17" y2="264.5" stroke="#444" stroke-width="0.6"/><line x1="610.7" y1="262.6" x2="610.7" y2="264.5" stroke="#444" stroke-width="0.6"/><line x1="612.84" y1="262.6" x2="612.84" y2="264.5" stroke="#444" stroke-width="0.6"/><line x1="614.7" y1="262.6" x2="614.7" y2="264.5" stroke="#444" stroke-width="0.6"/><line x1="616.34" y1="262.6" x2="616.34" y2="264.5" stroke="#444" stroke-width="0.6"/><line x1="617.8" y1="262.6" x2="617.8" y2="265.8" stroke="#444" stroke-width="0.8"/><line x1="627.43" y1="262.6" x2="627.43" y2="264.5" stroke="#444" stroke-width="0.6"/><line x1="633.07" y1="262.6" x2="633.07" y2="264.5" stroke="#444" stroke-width="0.6"/><line x1="637.07" y1="262.6" x2="637.07" y2="264.5" stroke="#444" stroke-width="0.6"/><line x1="640.17" y1="262.6" x2="640.17" y2="264.5" stroke="#444" stroke-width="0.6"/><line x1="642.7" y1="262.6" x2="642.7" y2="264.5" stroke="#444" stroke-width="0.6"/><line x1="644.84" y1="262.6" x2="644.84" y2="264.5" stroke="#444" stroke-width="0.6"/><line x1="646.7" y1="262.6" x2="646.7" y2="264.5" stroke="#444" stroke-width="0.6"/><line x1="648.34" y1="262.6" x2="648.34" y2="264.5" stroke="#444" stroke-width="0.6"/><line x1="649.8" y1="262.6" x2="649.8" y2="265.8" stroke="#444" stroke-width="0.8"/><line x1="659.43" y1="262.6" x2="659.43" y2="264.5" stroke="#444" stroke-width="0.6"/><line x1="665.07" y1="262.6" x2="665.07" y2="264.5" stroke="#444" stroke-width="0.6"/><line x1="669.07" y1="262.6" x2="669.07" y2="264.5" stroke="#444" stroke-width="0.6"/><line x1="672.17" y1="262.6" x2="672.17" y2="264.5" stroke="#444" stroke-width="0.6"/><line x1="561.6" y1="253.68" x2="563.5" y2="253.68" stroke="#444" stroke-width="0.6"/><line x1="561.6" y1="246.88" x2="563.5" y2="246.88" stroke="#444" stroke-width="0.6"/><line x1="561.6" y1="242.06" x2="563.5" y2="242.06" stroke="#444" stroke-width="0.6"/><line x1="561.6" y1="238.32" x2="563.5" y2="238.32" stroke="#444" stroke-width="0.6"/><line x1="561.6" y1="235.26" x2="563.5" y2="235.26" stroke="#444" stroke-width="0.6"/><line x1="561.6" y1="232.68" x2="563.5" y2="232.68" stroke="#444" stroke-width="0.6"/><line x1="561.6" y1="230.44" x2="563.5" y2="230.44" stroke="#444" stroke-width="0.6"/><line x1="561.6" y1="228.47" x2="563.5" y2="228.47" stroke="#444" stroke-width="0.6"/><line x1="560.3" y1="226.7" x2="563.5" y2="226.7" stroke="#444" stroke-width="0.8"/><line x1="561.6" y1="215.08" x2="563.5" y2="215.08" stroke="#444" stroke-width="0.6"/><line x1="561.6" y1="208.28" x2="563.5" y2="208.28" stroke="#444" stroke-width="0.6"/><line x1="561.6" y1="203.46" x2="563.5" y2="203.46" stroke="#444" stroke-width="0.6"/><line x1="561.6" y1="199.72" x2="563.5" y2="199.72" stroke="#444" stroke-width="0.6"/><line x1="561.6" y1="196.66" x2="563.5" y2="196.66" stroke="#444" stroke-width="0.6"/><line x1="561.6" y1="194.08" x2="563.5" y2="194.08" stroke="#444" stroke-width="0.6"/><line x1="561.6" y1="191.84" x2="563.5" y2="191.84" stroke="#444" stroke-width="0.6"/><line x1="561.6" y1="189.87" x2="563.5" y2="189.87" stroke="#444" stroke-width="0.6"/><line x1="560.3" y1="188.1" x2="563.5" y2="188.1" stroke="#444" stroke-width="0.8"/><line x1="561.6" y1="176.48" x2="563.5" y2="176.48" stroke="#444" stroke-width="0.6"/><line x1="561.6" y1="169.68" x2="563.5" y2="169.68" stroke="#444" stroke-width="0.6"/><line x1="561.6" y1="164.86" x2="563.5" y2="164.86" stroke="#444" stroke-width="0.6"/><line x1="561.6" y1="161.12" x2="563.5" y2="161.12" stroke="#444" stroke-width="0.6"/><line x1="561.6" y1="158.06" x2="563.5" y2="158.06" stroke="#444" stroke-width="0.6"/><line x1="561.6" y1="155.48" x2="563.5" y2="155.48" stroke="#444" stroke-width="0.6"/><line x1="561.6" y1="153.24" x2="563.5" y2="153.24" stroke="#444" stroke-width="0.6"/><line x1="561.6" y1="151.27" x2="563.5" y2="151.27" stroke="#444" stroke-width="0.6"/><line x1="560.3" y1="149.5" x2="563.5" y2="149.5" stroke="#444" stroke-width="0.8"/><text x="540.94" y="152.8" font-family='"Liberation Sans", sans-serif' font-size="8.6" font-weight="normal" fill="#111" stroke="#111" textLength="9.37" lengthAdjust="spacingAndGlyphs">10</text><text x="550.15" y="149.3" font-family='"Liberation Sans", sans-serif' font-size="6.02" font-weight="normal" fill="#111" stroke="#111" textLength="7.69" lengthAdjust="spacingAndGlyphs">−2</text><text x="540.9" y="191.4" font-family='"Liberation Sans", sans-serif' font-size="8.6" font-weight="normal" fill="#111" stroke="#111" textLength="9.37" lengthAdjust="spacingAndGlyphs">10</text><text x="550.11" y="187.9" font-family='"Liberation Sans", sans-serif' font-size="6.02" font-weight="normal" fill="#111" stroke="#111" textLength="7.69" lengthAdjust="spacingAndGlyphs">−3</text><text x="540.8" y="230" font-family='"Liberation Sans", sans-serif' font-size="8.6" font-weight="normal" fill="#111" stroke="#111" textLength="9.37" lengthAdjust="spacingAndGlyphs">10</text><text x="550.01" y="226.5" font-family='"Liberation Sans", sans-serif' font-size="6.02" font-weight="normal" fill="#111" stroke="#111" textLength="7.69" lengthAdjust="spacingAndGlyphs">−4</text><text x="579.01" y="273.8" font-family='"Liberation Sans", sans-serif' font-size="8.6" font-weight="normal" fill="#111" stroke="#111" textLength="10.04" lengthAdjust="spacingAndGlyphs">10</text><text x="588.86" y="270.7" font-family='"Liberation Sans", sans-serif' font-size="5.33" font-weight="normal" fill="#111" stroke="#111" textLength="2.45" lengthAdjust="spacingAndGlyphs">1</text><text x="611.01" y="273.8" font-family='"Liberation Sans", sans-serif' font-size="8.6" font-weight="normal" fill="#111" stroke="#111" textLength="10.04" lengthAdjust="spacingAndGlyphs">10</text><text x="620.94" y="270.7" font-family='"Liberation Sans", sans-serif' font-size="5.33" font-weight="normal" fill="#111" stroke="#111" textLength="2.93" lengthAdjust="spacingAndGlyphs">2</text><text x="643.01" y="273.8" font-family='"Liberation Sans", sans-serif' font-size="8.6" font-weight="normal" fill="#111" stroke="#111" textLength="10.04" lengthAdjust="spacingAndGlyphs">10</text><text x="653.01" y="270.7" font-family='"Liberation Sans", sans-serif' font-size="5.33" font-weight="normal" fill="#111" stroke="#111" textLength="2.82" lengthAdjust="spacingAndGlyphs">3</text><text x="435.55" y="9.7" font-family='"Liberation Sans", sans-serif' font-size="9.7" font-weight="bold" fill="#000" stroke="#000" textLength="45.31" lengthAdjust="spacingAndGlyphs">retweet</text><text x="603.69" y="9.7" font-family='"Liberation Sans", sans-serif' font-size="9.7" font-weight="bold" fill="#000" stroke="#000" textLength="29.48" lengthAdjust="spacingAndGlyphs">reply</text><text x="447.83" y="145.4" font-family='"Liberation Sans", sans-serif' font-size="9.7" font-weight="bold" fill="#000" stroke="#000" textLength="20.69" lengthAdjust="spacingAndGlyphs">like</text><text x="601.7" y="145.4" font-family='"Liberation Sans", sans-serif' font-size="9.7" font-weight="bold" fill="#000" stroke="#000" textLength="33.32" lengthAdjust="spacingAndGlyphs">quote</text><text x="509.72" y="8" font-family='"Liberation Mono", monospace' font-size="10" font-weight="normal" fill="#222" stroke="#222" textLength="6.57" lengthAdjust="spacingAndGlyphs" class="r">I</text><text x="667.97" y="8" font-family='"Liberation Mono", monospace' font-size="10" font-weight="normal" fill="#222" stroke="#222" textLength="12.58" lengthAdjust="spacingAndGlyphs" class="r">II</text><text x="504.21" y="141.6" font-family='"Liberation Mono", monospace' font-size="10" font-weight="normal" fill="#222" stroke="#222" textLength="18.09" lengthAdjust="spacingAndGlyphs" class="r">III</text><text x="668.46" y="141.6" font-family='"Liberation Mono", monospace' font-size="10" font-weight="normal" fill="#222" stroke="#222" textLength="11.5" lengthAdjust="spacingAndGlyphs" class="r">IV</text><text transform="translate(375.2,127.45) rotate(-90)" x="0" y="0" font-family='"Liberation Sans", sans-serif' font-size="10.3" font-weight="normal" fill="#111" stroke="#111" textLength="114.89" lengthAdjust="spacingAndGlyphs">retweet per impression</text><text transform="translate(535.3,121.67) rotate(-90)" x="0" y="0" font-family='"Liberation Sans", sans-serif' font-size="10.3" font-weight="normal" fill="#111" stroke="#111" textLength="104.12" lengthAdjust="spacingAndGlyphs">reply per impression</text><text transform="translate(376.1,254.99) rotate(-90)" x="0" y="0" font-family='"Liberation Sans", sans-serif' font-size="10.3" font-weight="normal" fill="#111" stroke="#111" textLength="97.45" lengthAdjust="spacingAndGlyphs">like per impression</text><text transform="translate(535.6,259.38) rotate(-90)" x="0" y="0" font-family='"Liberation Sans", sans-serif' font-size="10.3" font-weight="normal" fill="#111" stroke="#111" textLength="106.82" lengthAdjust="spacingAndGlyphs">quote per impression</text><text transform="translate(365,75.62) rotate(-90)" x="0" y="0" font-family='"Liberation Sans", sans-serif' font-size="8.8" font-weight="normal" fill="#333" stroke="#333" textLength="10.97" lengthAdjust="spacingAndGlyphs">AE</text><text transform="translate(527.8,76.82) rotate(-90)" x="0" y="0" font-family='"Liberation Sans", sans-serif' font-size="8.8" font-weight="normal" fill="#333" stroke="#333" textLength="10.97" lengthAdjust="spacingAndGlyphs">AE</text><text transform="translate(365.6,210.42) rotate(-90)" x="0" y="0" font-family='"Liberation Sans", sans-serif' font-size="8.8" font-weight="normal" fill="#333" stroke="#333" textLength="10.76" lengthAdjust="spacingAndGlyphs">AE</text><text transform="translate(526.8,210.72) rotate(-90)" x="0" y="0" font-family='"Liberation Sans", sans-serif' font-size="8.8" font-weight="normal" fill="#333" stroke="#333" textLength="10.56" lengthAdjust="spacingAndGlyphs">AE</text><text x="392.23" y="287.8" font-family='"Liberation Sans", sans-serif' font-size="11.3" font-weight="normal" fill="#111" stroke="#111" textLength="131.48" lengthAdjust="spacingAndGlyphs">number of unique sharers</text><text x="552.43" y="287.8" font-family='"Liberation Sans", sans-serif' font-size="11.3" font-weight="normal" fill="#111" stroke="#111" textLength="132.09" lengthAdjust="spacingAndGlyphs">number of unique sharers</text><text x="500.21" y="306.1" font-family='"Liberation Sans", sans-serif' font-size="11.4" font-weight="normal" fill="#222" stroke="#222" textLength="70.04" lengthAdjust="spacingAndGlyphs">Color Legend</text><text x="496.41" y="317.6" font-family='"Liberation Sans", sans-serif' font-size="9.4" font-weight="normal" fill="#222" stroke="#222" textLength="77.01" lengthAdjust="spacingAndGlyphs">Domain Reliability</text><path d="M423.3 328.6h4.4M425.5 326.4v4.4" stroke="#5f8f22" stroke-width="1.2" fill="none"/><path d="M423.3 340.7h4.4M425.5 338.5v4.4" stroke="#8fcf30" stroke-width="1.2" fill="none"/><path d="M502.1 329.6h4.4M504.3 327.4v4.4" stroke="#ffc81e" stroke-width="1.2" fill="none"/><path d="M502.1 341.7h4.4M504.3 339.5v4.4" stroke="#ff9f1a" stroke-width="1.2" fill="none"/><path d="M580.9 328.8h4.4M583.1 326.6v4.4" stroke="#ff5a1e" stroke-width="1.2" fill="none"/><path d="M580.9 340.7h4.4M583.1 338.5v4.4" stroke="#b8343f" stroke-width="1.2" fill="none"/><text x="440.57" y="330.9" font-family='"Liberation Sans", sans-serif' font-size="9.3" font-weight="normal" fill="#222" stroke="#222" textLength="38.75" lengthAdjust="spacingAndGlyphs">very high</text><text x="439.92" y="342.6" font-family='"Liberation Sans", sans-serif' font-size="9.3" font-weight="normal" fill="#222" stroke="#222" textLength="18.41" lengthAdjust="spacingAndGlyphs">high</text><text x="518.96" y="331.6" font-family='"Liberation Sans", sans-serif' font-size="9.3" font-weight="normal" fill="#222" stroke="#222" textLength="58.48" lengthAdjust="spacingAndGlyphs">mostly factual</text><text x="518.97" y="343.7" font-family='"Liberation Sans", sans-serif' font-size="9.3" font-weight="normal" fill="#222" stroke="#222" textLength="25.24" lengthAdjust="spacingAndGlyphs">mixed</text><text x="597.53" y="330.9" font-family='"Liberation Sans", sans-serif' font-size="9.3" font-weight="normal" fill="#222" stroke="#222" textLength="14.95" lengthAdjust="spacingAndGlyphs">low</text><text x="598.17" y="342.9" font-family='"Liberation Sans", sans-serif' font-size="9.3" font-weight="normal" fill="#222" stroke="#222" textLength="34.21" lengthAdjust="spacingAndGlyphs">very low</text><text x="518.02" y="357.4" font-family='"Liberation Sans", sans-serif' font-size="13" font-weight="normal" fill="#222" stroke="#222" textLength="17.25" lengthAdjust="spacingAndGlyphs">(b)</text></svg></body></html>
